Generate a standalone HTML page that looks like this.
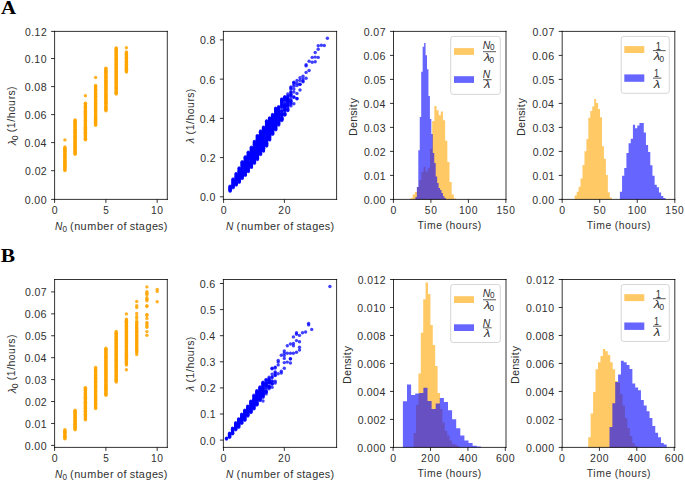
<!DOCTYPE html>
<html><head><meta charset="utf-8"><style>
html,body{margin:0;padding:0;background:#fff;}
svg{display:block;}
text{font-family:"Liberation Sans",sans-serif;}
</style></head><body>
<svg width="685" height="482" viewBox="0 0 685 482">
<rect width="685" height="482" fill="#fff"/>

<text transform="translate(0.9 13.7) scale(1.0692 1)" font-size="19.5" style="font-family:'Liberation Serif',serif;font-weight:bold" fill="#000">A</text>
<text transform="translate(0.64 261.9) scale(1.1038 1)" font-size="19.5" style="font-family:'Liberation Serif',serif;font-weight:bold" fill="#000">B</text>
<g fill="#ffa500" fill-opacity="0.85"><circle cx="64.9" cy="146.9" r="1.7"/><circle cx="64.9" cy="148.0" r="1.7"/><circle cx="64.9" cy="148.7" r="1.7"/><circle cx="64.9" cy="149.2" r="1.7"/><circle cx="64.9" cy="150.0" r="1.7"/><circle cx="64.9" cy="151.2" r="1.7"/><circle cx="64.9" cy="151.5" r="1.7"/><circle cx="64.9" cy="152.8" r="1.7"/><circle cx="64.9" cy="153.6" r="1.7"/><circle cx="64.9" cy="154.2" r="1.7"/><circle cx="64.9" cy="154.9" r="1.7"/><circle cx="64.9" cy="155.7" r="1.7"/><circle cx="64.9" cy="156.5" r="1.7"/><circle cx="64.9" cy="157.4" r="1.7"/><circle cx="64.9" cy="158.3" r="1.7"/><circle cx="64.9" cy="159.1" r="1.7"/><circle cx="64.9" cy="160.2" r="1.7"/><circle cx="64.9" cy="160.9" r="1.7"/><circle cx="64.9" cy="161.6" r="1.7"/><circle cx="64.9" cy="162.7" r="1.7"/><circle cx="64.9" cy="163.0" r="1.7"/><circle cx="64.9" cy="163.8" r="1.7"/><circle cx="64.9" cy="164.9" r="1.7"/><circle cx="64.9" cy="165.3" r="1.7"/><circle cx="64.9" cy="166.2" r="1.7"/><circle cx="64.9" cy="167.3" r="1.7"/><circle cx="64.9" cy="168.0" r="1.7"/><circle cx="64.9" cy="169.1" r="1.7"/><circle cx="64.9" cy="169.8" r="1.7"/><circle cx="64.9" cy="170.5" r="1.7"/><circle cx="64.9" cy="139.9" r="1.7"/><circle cx="75.1" cy="120.0" r="1.7"/><circle cx="75.1" cy="120.7" r="1.7"/><circle cx="75.1" cy="121.3" r="1.7"/><circle cx="75.1" cy="122.3" r="1.7"/><circle cx="75.1" cy="123.4" r="1.7"/><circle cx="75.1" cy="123.9" r="1.7"/><circle cx="75.1" cy="124.8" r="1.7"/><circle cx="75.1" cy="125.4" r="1.7"/><circle cx="75.1" cy="126.7" r="1.7"/><circle cx="75.1" cy="127.1" r="1.7"/><circle cx="75.1" cy="128.0" r="1.7"/><circle cx="75.1" cy="129.2" r="1.7"/><circle cx="75.1" cy="129.8" r="1.7"/><circle cx="75.1" cy="130.8" r="1.7"/><circle cx="75.1" cy="131.5" r="1.7"/><circle cx="75.1" cy="132.4" r="1.7"/><circle cx="75.1" cy="132.8" r="1.7"/><circle cx="75.1" cy="133.9" r="1.7"/><circle cx="75.1" cy="134.7" r="1.7"/><circle cx="75.1" cy="135.7" r="1.7"/><circle cx="75.1" cy="136.3" r="1.7"/><circle cx="75.1" cy="137.2" r="1.7"/><circle cx="75.1" cy="137.7" r="1.7"/><circle cx="75.1" cy="138.7" r="1.7"/><circle cx="75.1" cy="139.5" r="1.7"/><circle cx="75.1" cy="140.2" r="1.7"/><circle cx="75.1" cy="141.4" r="1.7"/><circle cx="75.1" cy="142.0" r="1.7"/><circle cx="75.1" cy="143.2" r="1.7"/><circle cx="75.1" cy="143.7" r="1.7"/><circle cx="75.1" cy="144.6" r="1.7"/><circle cx="75.1" cy="145.4" r="1.7"/><circle cx="75.1" cy="146.2" r="1.7"/><circle cx="75.1" cy="146.7" r="1.7"/><circle cx="75.1" cy="147.7" r="1.7"/><circle cx="75.1" cy="148.4" r="1.7"/><circle cx="75.1" cy="149.3" r="1.7"/><circle cx="75.1" cy="150.0" r="1.7"/><circle cx="75.1" cy="151.3" r="1.7"/><circle cx="75.1" cy="151.7" r="1.7"/><circle cx="75.1" cy="152.8" r="1.7"/><circle cx="75.1" cy="153.4" r="1.7"/><circle cx="75.1" cy="154.3" r="1.7"/><circle cx="85.4" cy="103.2" r="1.7"/><circle cx="85.4" cy="103.8" r="1.7"/><circle cx="85.4" cy="105.1" r="1.7"/><circle cx="85.4" cy="106.0" r="1.7"/><circle cx="85.4" cy="106.8" r="1.7"/><circle cx="85.4" cy="107.4" r="1.7"/><circle cx="85.4" cy="108.0" r="1.7"/><circle cx="85.4" cy="108.8" r="1.7"/><circle cx="85.4" cy="110.1" r="1.7"/><circle cx="85.4" cy="110.7" r="1.7"/><circle cx="85.4" cy="111.3" r="1.7"/><circle cx="85.4" cy="112.6" r="1.7"/><circle cx="85.4" cy="113.3" r="1.7"/><circle cx="85.4" cy="114.1" r="1.7"/><circle cx="85.4" cy="114.8" r="1.7"/><circle cx="85.4" cy="115.6" r="1.7"/><circle cx="85.4" cy="116.4" r="1.7"/><circle cx="85.4" cy="117.1" r="1.7"/><circle cx="85.4" cy="118.4" r="1.7"/><circle cx="85.4" cy="119.0" r="1.7"/><circle cx="85.4" cy="119.9" r="1.7"/><circle cx="85.4" cy="120.6" r="1.7"/><circle cx="85.4" cy="121.7" r="1.7"/><circle cx="85.4" cy="122.0" r="1.7"/><circle cx="85.4" cy="123.1" r="1.7"/><circle cx="85.4" cy="123.7" r="1.7"/><circle cx="85.4" cy="124.6" r="1.7"/><circle cx="85.4" cy="125.9" r="1.7"/><circle cx="85.4" cy="126.6" r="1.7"/><circle cx="85.4" cy="127.3" r="1.7"/><circle cx="85.4" cy="128.2" r="1.7"/><circle cx="85.4" cy="129.2" r="1.7"/><circle cx="85.4" cy="129.7" r="1.7"/><circle cx="85.4" cy="130.7" r="1.7"/><circle cx="85.4" cy="131.6" r="1.7"/><circle cx="85.4" cy="132.2" r="1.7"/><circle cx="85.4" cy="133.2" r="1.7"/><circle cx="85.4" cy="134.1" r="1.7"/><circle cx="85.4" cy="135.1" r="1.7"/><circle cx="85.4" cy="135.4" r="1.7"/><circle cx="85.4" cy="136.7" r="1.7"/><circle cx="85.4" cy="137.0" r="1.7"/><circle cx="85.4" cy="138.3" r="1.7"/><circle cx="85.4" cy="139.2" r="1.7"/><circle cx="85.4" cy="139.8" r="1.7"/><circle cx="85.4" cy="95.7" r="1.7"/><circle cx="95.6" cy="85.5" r="1.7"/><circle cx="95.6" cy="86.5" r="1.7"/><circle cx="95.6" cy="86.9" r="1.7"/><circle cx="95.6" cy="88.1" r="1.7"/><circle cx="95.6" cy="89.0" r="1.7"/><circle cx="95.6" cy="89.7" r="1.7"/><circle cx="95.6" cy="90.6" r="1.7"/><circle cx="95.6" cy="91.1" r="1.7"/><circle cx="95.6" cy="92.0" r="1.7"/><circle cx="95.6" cy="92.9" r="1.7"/><circle cx="95.6" cy="93.6" r="1.7"/><circle cx="95.6" cy="94.5" r="1.7"/><circle cx="95.6" cy="95.7" r="1.7"/><circle cx="95.6" cy="96.3" r="1.7"/><circle cx="95.6" cy="97.0" r="1.7"/><circle cx="95.6" cy="97.8" r="1.7"/><circle cx="95.6" cy="99.0" r="1.7"/><circle cx="95.6" cy="99.6" r="1.7"/><circle cx="95.6" cy="100.7" r="1.7"/><circle cx="95.6" cy="101.3" r="1.7"/><circle cx="95.6" cy="102.1" r="1.7"/><circle cx="95.6" cy="103.2" r="1.7"/><circle cx="95.6" cy="103.9" r="1.7"/><circle cx="95.6" cy="104.6" r="1.7"/><circle cx="95.6" cy="105.4" r="1.7"/><circle cx="95.6" cy="106.5" r="1.7"/><circle cx="95.6" cy="107.0" r="1.7"/><circle cx="95.6" cy="108.1" r="1.7"/><circle cx="95.6" cy="108.5" r="1.7"/><circle cx="95.6" cy="109.5" r="1.7"/><circle cx="95.6" cy="110.4" r="1.7"/><circle cx="95.6" cy="111.5" r="1.7"/><circle cx="95.6" cy="111.9" r="1.7"/><circle cx="95.6" cy="113.0" r="1.7"/><circle cx="95.6" cy="113.8" r="1.7"/><circle cx="95.6" cy="114.7" r="1.7"/><circle cx="95.6" cy="115.4" r="1.7"/><circle cx="95.6" cy="116.5" r="1.7"/><circle cx="95.6" cy="116.9" r="1.7"/><circle cx="95.6" cy="117.8" r="1.7"/><circle cx="95.6" cy="118.5" r="1.7"/><circle cx="95.6" cy="119.2" r="1.7"/><circle cx="95.6" cy="120.2" r="1.7"/><circle cx="95.6" cy="121.4" r="1.7"/><circle cx="95.6" cy="122.2" r="1.7"/><circle cx="95.6" cy="122.6" r="1.7"/><circle cx="95.6" cy="123.7" r="1.7"/><circle cx="95.6" cy="124.5" r="1.7"/><circle cx="95.6" cy="125.3" r="1.7"/><circle cx="95.6" cy="77.5" r="1.7"/><circle cx="105.9" cy="68.1" r="1.7"/><circle cx="105.9" cy="68.8" r="1.7"/><circle cx="105.9" cy="70.0" r="1.7"/><circle cx="105.9" cy="70.5" r="1.7"/><circle cx="105.9" cy="71.5" r="1.7"/><circle cx="105.9" cy="72.3" r="1.7"/><circle cx="105.9" cy="72.8" r="1.7"/><circle cx="105.9" cy="73.6" r="1.7"/><circle cx="105.9" cy="74.6" r="1.7"/><circle cx="105.9" cy="75.6" r="1.7"/><circle cx="105.9" cy="76.5" r="1.7"/><circle cx="105.9" cy="77.2" r="1.7"/><circle cx="105.9" cy="77.7" r="1.7"/><circle cx="105.9" cy="79.0" r="1.7"/><circle cx="105.9" cy="79.8" r="1.7"/><circle cx="105.9" cy="80.6" r="1.7"/><circle cx="105.9" cy="81.2" r="1.7"/><circle cx="105.9" cy="82.3" r="1.7"/><circle cx="105.9" cy="82.6" r="1.7"/><circle cx="105.9" cy="83.4" r="1.7"/><circle cx="105.9" cy="84.2" r="1.7"/><circle cx="105.9" cy="85.2" r="1.7"/><circle cx="105.9" cy="86.0" r="1.7"/><circle cx="105.9" cy="86.8" r="1.7"/><circle cx="105.9" cy="87.8" r="1.7"/><circle cx="105.9" cy="88.3" r="1.7"/><circle cx="105.9" cy="89.5" r="1.7"/><circle cx="105.9" cy="90.0" r="1.7"/><circle cx="105.9" cy="91.1" r="1.7"/><circle cx="105.9" cy="91.6" r="1.7"/><circle cx="105.9" cy="92.6" r="1.7"/><circle cx="105.9" cy="93.8" r="1.7"/><circle cx="105.9" cy="94.3" r="1.7"/><circle cx="105.9" cy="95.3" r="1.7"/><circle cx="105.9" cy="96.0" r="1.7"/><circle cx="105.9" cy="96.8" r="1.7"/><circle cx="105.9" cy="97.4" r="1.7"/><circle cx="105.9" cy="98.5" r="1.7"/><circle cx="105.9" cy="99.0" r="1.7"/><circle cx="105.9" cy="100.2" r="1.7"/><circle cx="105.9" cy="101.1" r="1.7"/><circle cx="105.9" cy="101.9" r="1.7"/><circle cx="105.9" cy="102.2" r="1.7"/><circle cx="105.9" cy="103.2" r="1.7"/><circle cx="105.9" cy="104.0" r="1.7"/><circle cx="105.9" cy="104.7" r="1.7"/><circle cx="105.9" cy="105.9" r="1.7"/><circle cx="105.9" cy="106.8" r="1.7"/><circle cx="105.9" cy="107.3" r="1.7"/><circle cx="105.9" cy="108.5" r="1.7"/><circle cx="105.9" cy="109.2" r="1.7"/><circle cx="105.9" cy="109.7" r="1.7"/><circle cx="105.9" cy="110.7" r="1.7"/><circle cx="116.2" cy="47.9" r="1.7"/><circle cx="116.2" cy="48.5" r="1.7"/><circle cx="116.2" cy="49.6" r="1.7"/><circle cx="116.2" cy="50.5" r="1.7"/><circle cx="116.2" cy="51.3" r="1.7"/><circle cx="116.2" cy="51.8" r="1.7"/><circle cx="116.2" cy="52.9" r="1.7"/><circle cx="116.2" cy="53.7" r="1.7"/><circle cx="116.2" cy="54.7" r="1.7"/><circle cx="116.2" cy="55.5" r="1.7"/><circle cx="116.2" cy="56.0" r="1.7"/><circle cx="116.2" cy="57.1" r="1.7"/><circle cx="116.2" cy="58.0" r="1.7"/><circle cx="116.2" cy="58.8" r="1.7"/><circle cx="116.2" cy="59.2" r="1.7"/><circle cx="116.2" cy="60.0" r="1.7"/><circle cx="116.2" cy="61.2" r="1.7"/><circle cx="116.2" cy="61.7" r="1.7"/><circle cx="116.2" cy="62.8" r="1.7"/><circle cx="116.2" cy="63.8" r="1.7"/><circle cx="116.2" cy="64.3" r="1.7"/><circle cx="116.2" cy="65.0" r="1.7"/><circle cx="116.2" cy="66.0" r="1.7"/><circle cx="116.2" cy="66.9" r="1.7"/><circle cx="116.2" cy="67.4" r="1.7"/><circle cx="116.2" cy="68.4" r="1.7"/><circle cx="116.2" cy="69.1" r="1.7"/><circle cx="116.2" cy="70.2" r="1.7"/><circle cx="116.2" cy="71.1" r="1.7"/><circle cx="116.2" cy="71.7" r="1.7"/><circle cx="116.2" cy="72.5" r="1.7"/><circle cx="116.2" cy="73.4" r="1.7"/><circle cx="116.2" cy="74.1" r="1.7"/><circle cx="116.2" cy="74.9" r="1.7"/><circle cx="116.2" cy="75.8" r="1.7"/><circle cx="116.2" cy="76.7" r="1.7"/><circle cx="116.2" cy="77.3" r="1.7"/><circle cx="116.2" cy="78.5" r="1.7"/><circle cx="116.2" cy="79.2" r="1.7"/><circle cx="116.2" cy="79.9" r="1.7"/><circle cx="116.2" cy="80.6" r="1.7"/><circle cx="116.2" cy="81.8" r="1.7"/><circle cx="116.2" cy="82.3" r="1.7"/><circle cx="116.2" cy="83.1" r="1.7"/><circle cx="116.2" cy="83.9" r="1.7"/><circle cx="116.2" cy="84.7" r="1.7"/><circle cx="116.2" cy="86.0" r="1.7"/><circle cx="116.2" cy="86.5" r="1.7"/><circle cx="116.2" cy="87.3" r="1.7"/><circle cx="116.2" cy="88.4" r="1.7"/><circle cx="116.2" cy="89.1" r="1.7"/><circle cx="116.2" cy="89.7" r="1.7"/><circle cx="116.2" cy="90.7" r="1.7"/><circle cx="116.2" cy="91.8" r="1.7"/><circle cx="116.2" cy="92.3" r="1.7"/><circle cx="116.2" cy="93.3" r="1.7"/><circle cx="116.2" cy="94.0" r="1.7"/><circle cx="126.4" cy="52.0" r="1.7"/><circle cx="126.4" cy="53.0" r="1.7"/><circle cx="126.4" cy="53.8" r="1.7"/><circle cx="126.4" cy="54.5" r="1.7"/><circle cx="126.4" cy="55.1" r="1.7"/><circle cx="126.4" cy="55.8" r="1.7"/><circle cx="126.4" cy="56.8" r="1.7"/><circle cx="126.4" cy="57.8" r="1.7"/><circle cx="126.4" cy="58.2" r="1.7"/><circle cx="126.4" cy="59.1" r="1.7"/><circle cx="126.4" cy="60.1" r="1.7"/><circle cx="126.4" cy="61.0" r="1.7"/><circle cx="126.4" cy="61.9" r="1.7"/><circle cx="126.4" cy="62.2" r="1.7"/><circle cx="126.4" cy="63.1" r="1.7"/><circle cx="126.4" cy="64.2" r="1.7"/><circle cx="126.4" cy="65.0" r="1.7"/><circle cx="126.4" cy="65.8" r="1.7"/><circle cx="126.4" cy="66.8" r="1.7"/><circle cx="126.4" cy="67.5" r="1.7"/><circle cx="126.4" cy="68.3" r="1.7"/><circle cx="126.4" cy="69.1" r="1.7"/><circle cx="126.4" cy="69.6" r="1.7"/><circle cx="126.4" cy="70.6" r="1.7"/><circle cx="126.4" cy="71.1" r="1.7"/><circle cx="126.4" cy="72.1" r="1.7"/><circle cx="126.4" cy="47.8" r="1.7"/></g>
<path d="M54.6 31.4H167.3M167.3 31.4V199.4M167.3 199.4H54.6M54.6 199.4V31.4" fill="none" stroke="#000" stroke-width="0.8" stroke-linecap="square"/>
<text transform="translate(51.67 214.3) scale(1.0039 1)" x="0" font-size="10.5" fill="#303030">0</text>
<text transform="translate(103.14 214.3) scale(0.9475 1)" x="0" font-size="10.5" fill="#303030">5</text>
<text transform="translate(150.88 214.3) scale(0.9814 1)" x="0 6.53" font-size="10.5" fill="#303030">10</text>
<path d="M54.6 199.4v3.5M105.9 199.4v3.5M157.2 199.4v3.5" stroke="#000" stroke-width="0.8"/>
<text transform="translate(24.73 203.8) scale(1.0106 1)" x="0 6.18 9.44 15.74" font-size="10.5" fill="#303030">0.00</text>
<text transform="translate(25.09 175.1) scale(1.0015 1)" x="0 6.22 9.53 15.75" font-size="10.5" fill="#303030">0.02</text>
<text transform="translate(24.62 147) scale(1.0106 1)" x="0 6.18 9.44 15.74" font-size="10.5" fill="#303030">0.04</text>
<text transform="translate(24.67 119) scale(1.0194 1)" x="0 6.14 9.36 15.6" font-size="10.5" fill="#303030">0.06</text>
<text transform="translate(24.74 91) scale(1.0133 1)" x="0 6.17 9.42 15.69" font-size="10.5" fill="#303030">0.08</text>
<text transform="translate(24.76 62.9) scale(0.9993 1)" x="0 6.23 9.49 15.91" font-size="10.5" fill="#303030">0.10</text>
<text transform="translate(25.12 35.8) scale(0.9903 1)" x="0 6.28 9.58 15.93" font-size="10.5" fill="#303030">0.12</text>
<path d="M54.6 199.4h-3.5M54.6 170.7h-3.5M54.6 142.6h-3.5M54.6 114.6h-3.5M54.6 86.6h-3.5M54.6 58.5h-3.5M54.6 31.4h-3.5" stroke="#000" stroke-width="0.8"/>
<g fill="#ffa500" fill-opacity="0.85"><circle cx="64.9" cy="429.8" r="1.7"/><circle cx="64.9" cy="430.8" r="1.7"/><circle cx="64.9" cy="431.4" r="1.7"/><circle cx="64.9" cy="432.2" r="1.7"/><circle cx="64.9" cy="433.0" r="1.7"/><circle cx="64.9" cy="433.6" r="1.7"/><circle cx="64.9" cy="434.9" r="1.7"/><circle cx="64.9" cy="435.6" r="1.7"/><circle cx="64.9" cy="436.3" r="1.7"/><circle cx="64.9" cy="437.2" r="1.7"/><circle cx="64.9" cy="438.1" r="1.7"/><circle cx="64.9" cy="438.8" r="1.7"/><circle cx="75.1" cy="410.2" r="1.7"/><circle cx="75.1" cy="411.3" r="1.7"/><circle cx="75.1" cy="411.8" r="1.7"/><circle cx="75.1" cy="412.4" r="1.7"/><circle cx="75.1" cy="413.6" r="1.7"/><circle cx="75.1" cy="414.6" r="1.7"/><circle cx="75.1" cy="414.9" r="1.7"/><circle cx="75.1" cy="416.0" r="1.7"/><circle cx="75.1" cy="416.9" r="1.7"/><circle cx="75.1" cy="417.8" r="1.7"/><circle cx="75.1" cy="418.1" r="1.7"/><circle cx="75.1" cy="418.9" r="1.7"/><circle cx="75.1" cy="420.3" r="1.7"/><circle cx="75.1" cy="420.6" r="1.7"/><circle cx="75.1" cy="421.4" r="1.7"/><circle cx="75.1" cy="422.5" r="1.7"/><circle cx="75.1" cy="423.2" r="1.7"/><circle cx="75.1" cy="424.2" r="1.7"/><circle cx="75.1" cy="424.7" r="1.7"/><circle cx="75.1" cy="426.0" r="1.7"/><circle cx="75.1" cy="426.4" r="1.7"/><circle cx="75.1" cy="427.5" r="1.7"/><circle cx="75.1" cy="427.9" r="1.7"/><circle cx="75.1" cy="429.0" r="1.7"/><circle cx="75.1" cy="429.8" r="1.7"/><circle cx="85.4" cy="387.6" r="1.7"/><circle cx="85.4" cy="388.3" r="1.7"/><circle cx="85.4" cy="389.4" r="1.7"/><circle cx="85.4" cy="390.0" r="1.7"/><circle cx="85.4" cy="390.6" r="1.7"/><circle cx="85.4" cy="392.0" r="1.7"/><circle cx="85.4" cy="392.8" r="1.7"/><circle cx="85.4" cy="393.6" r="1.7"/><circle cx="85.4" cy="394.0" r="1.7"/><circle cx="85.4" cy="394.9" r="1.7"/><circle cx="85.4" cy="395.7" r="1.7"/><circle cx="85.4" cy="396.4" r="1.7"/><circle cx="85.4" cy="397.2" r="1.7"/><circle cx="85.4" cy="398.3" r="1.7"/><circle cx="85.4" cy="398.9" r="1.7"/><circle cx="85.4" cy="399.8" r="1.7"/><circle cx="85.4" cy="401.0" r="1.7"/><circle cx="85.4" cy="401.6" r="1.7"/><circle cx="85.4" cy="402.2" r="1.7"/><circle cx="85.4" cy="403.3" r="1.7"/><circle cx="85.4" cy="403.9" r="1.7"/><circle cx="85.4" cy="404.9" r="1.7"/><circle cx="85.4" cy="405.6" r="1.7"/><circle cx="85.4" cy="406.5" r="1.7"/><circle cx="85.4" cy="407.4" r="1.7"/><circle cx="85.4" cy="408.2" r="1.7"/><circle cx="85.4" cy="408.9" r="1.7"/><circle cx="85.4" cy="410.0" r="1.7"/><circle cx="85.4" cy="410.9" r="1.7"/><circle cx="85.4" cy="411.3" r="1.7"/><circle cx="85.4" cy="412.1" r="1.7"/><circle cx="85.4" cy="412.9" r="1.7"/><circle cx="85.4" cy="414.2" r="1.7"/><circle cx="85.4" cy="415.0" r="1.7"/><circle cx="85.4" cy="415.4" r="1.7"/><circle cx="85.4" cy="416.7" r="1.7"/><circle cx="85.4" cy="417.1" r="1.7"/><circle cx="85.4" cy="418.1" r="1.7"/><circle cx="85.4" cy="418.9" r="1.7"/><circle cx="85.4" cy="419.7" r="1.7"/><circle cx="95.6" cy="369.0" r="1.7"/><circle cx="95.6" cy="369.7" r="1.7"/><circle cx="95.6" cy="370.7" r="1.7"/><circle cx="95.6" cy="371.2" r="1.7"/><circle cx="95.6" cy="372.1" r="1.7"/><circle cx="95.6" cy="373.1" r="1.7"/><circle cx="95.6" cy="374.2" r="1.7"/><circle cx="95.6" cy="374.9" r="1.7"/><circle cx="95.6" cy="375.8" r="1.7"/><circle cx="95.6" cy="376.6" r="1.7"/><circle cx="95.6" cy="377.4" r="1.7"/><circle cx="95.6" cy="378.3" r="1.7"/><circle cx="95.6" cy="379.0" r="1.7"/><circle cx="95.6" cy="379.9" r="1.7"/><circle cx="95.6" cy="380.4" r="1.7"/><circle cx="95.6" cy="381.2" r="1.7"/><circle cx="95.6" cy="382.4" r="1.7"/><circle cx="95.6" cy="382.8" r="1.7"/><circle cx="95.6" cy="384.1" r="1.7"/><circle cx="95.6" cy="384.7" r="1.7"/><circle cx="95.6" cy="385.4" r="1.7"/><circle cx="95.6" cy="386.6" r="1.7"/><circle cx="95.6" cy="386.9" r="1.7"/><circle cx="95.6" cy="388.0" r="1.7"/><circle cx="95.6" cy="388.6" r="1.7"/><circle cx="95.6" cy="389.9" r="1.7"/><circle cx="95.6" cy="390.5" r="1.7"/><circle cx="95.6" cy="391.5" r="1.7"/><circle cx="95.6" cy="392.0" r="1.7"/><circle cx="95.6" cy="393.1" r="1.7"/><circle cx="95.6" cy="393.9" r="1.7"/><circle cx="95.6" cy="394.7" r="1.7"/><circle cx="95.6" cy="395.7" r="1.7"/><circle cx="95.6" cy="396.2" r="1.7"/><circle cx="95.6" cy="397.0" r="1.7"/><circle cx="95.6" cy="398.0" r="1.7"/><circle cx="95.6" cy="398.9" r="1.7"/><circle cx="95.6" cy="399.4" r="1.7"/><circle cx="95.6" cy="400.5" r="1.7"/><circle cx="95.6" cy="401.0" r="1.7"/><circle cx="95.6" cy="402.0" r="1.7"/><circle cx="95.6" cy="403.0" r="1.7"/><circle cx="95.6" cy="403.4" r="1.7"/><circle cx="95.6" cy="404.6" r="1.7"/><circle cx="95.6" cy="405.0" r="1.7"/><circle cx="95.6" cy="406.4" r="1.7"/><circle cx="95.6" cy="406.9" r="1.7"/><circle cx="95.6" cy="407.7" r="1.7"/><circle cx="95.6" cy="408.6" r="1.7"/><circle cx="95.6" cy="367.4" r="1.7"/><circle cx="105.9" cy="348.3" r="1.7"/><circle cx="105.9" cy="349.3" r="1.7"/><circle cx="105.9" cy="349.7" r="1.7"/><circle cx="105.9" cy="350.8" r="1.7"/><circle cx="105.9" cy="351.6" r="1.7"/><circle cx="105.9" cy="352.7" r="1.7"/><circle cx="105.9" cy="353.0" r="1.7"/><circle cx="105.9" cy="354.0" r="1.7"/><circle cx="105.9" cy="355.0" r="1.7"/><circle cx="105.9" cy="355.8" r="1.7"/><circle cx="105.9" cy="356.3" r="1.7"/><circle cx="105.9" cy="357.4" r="1.7"/><circle cx="105.9" cy="358.0" r="1.7"/><circle cx="105.9" cy="358.8" r="1.7"/><circle cx="105.9" cy="360.1" r="1.7"/><circle cx="105.9" cy="360.5" r="1.7"/><circle cx="105.9" cy="361.5" r="1.7"/><circle cx="105.9" cy="362.5" r="1.7"/><circle cx="105.9" cy="363.3" r="1.7"/><circle cx="105.9" cy="364.0" r="1.7"/><circle cx="105.9" cy="365.0" r="1.7"/><circle cx="105.9" cy="365.6" r="1.7"/><circle cx="105.9" cy="366.5" r="1.7"/><circle cx="105.9" cy="367.5" r="1.7"/><circle cx="105.9" cy="368.2" r="1.7"/><circle cx="105.9" cy="369.0" r="1.7"/><circle cx="105.9" cy="369.7" r="1.7"/><circle cx="105.9" cy="370.6" r="1.7"/><circle cx="105.9" cy="371.3" r="1.7"/><circle cx="105.9" cy="372.4" r="1.7"/><circle cx="105.9" cy="373.0" r="1.7"/><circle cx="105.9" cy="373.8" r="1.7"/><circle cx="105.9" cy="374.8" r="1.7"/><circle cx="105.9" cy="375.5" r="1.7"/><circle cx="105.9" cy="376.2" r="1.7"/><circle cx="105.9" cy="377.4" r="1.7"/><circle cx="105.9" cy="377.9" r="1.7"/><circle cx="105.9" cy="379.0" r="1.7"/><circle cx="105.9" cy="379.8" r="1.7"/><circle cx="105.9" cy="380.4" r="1.7"/><circle cx="105.9" cy="381.4" r="1.7"/><circle cx="105.9" cy="381.8" r="1.7"/><circle cx="105.9" cy="382.9" r="1.7"/><circle cx="105.9" cy="384.0" r="1.7"/><circle cx="105.9" cy="384.6" r="1.7"/><circle cx="105.9" cy="385.4" r="1.7"/><circle cx="105.9" cy="386.3" r="1.7"/><circle cx="105.9" cy="387.2" r="1.7"/><circle cx="105.9" cy="387.9" r="1.7"/><circle cx="105.9" cy="388.7" r="1.7"/><circle cx="105.9" cy="389.3" r="1.7"/><circle cx="105.9" cy="390.2" r="1.7"/><circle cx="105.9" cy="391.1" r="1.7"/><circle cx="105.9" cy="392.0" r="1.7"/><circle cx="105.9" cy="393.1" r="1.7"/><circle cx="105.9" cy="393.6" r="1.7"/><circle cx="105.9" cy="394.4" r="1.7"/><circle cx="105.9" cy="395.3" r="1.7"/><circle cx="116.2" cy="331.5" r="1.7"/><circle cx="116.2" cy="332.6" r="1.7"/><circle cx="116.2" cy="333.4" r="1.7"/><circle cx="116.2" cy="333.9" r="1.7"/><circle cx="116.2" cy="334.7" r="1.7"/><circle cx="116.2" cy="335.9" r="1.7"/><circle cx="116.2" cy="336.5" r="1.7"/><circle cx="116.2" cy="337.4" r="1.7"/><circle cx="116.2" cy="337.9" r="1.7"/><circle cx="116.2" cy="339.2" r="1.7"/><circle cx="116.2" cy="339.7" r="1.7"/><circle cx="116.2" cy="340.6" r="1.7"/><circle cx="116.2" cy="341.3" r="1.7"/><circle cx="116.2" cy="342.2" r="1.7"/><circle cx="116.2" cy="343.3" r="1.7"/><circle cx="116.2" cy="344.1" r="1.7"/><circle cx="116.2" cy="344.7" r="1.7"/><circle cx="116.2" cy="345.7" r="1.7"/><circle cx="116.2" cy="346.4" r="1.7"/><circle cx="116.2" cy="347.2" r="1.7"/><circle cx="116.2" cy="348.1" r="1.7"/><circle cx="116.2" cy="348.7" r="1.7"/><circle cx="116.2" cy="349.6" r="1.7"/><circle cx="116.2" cy="350.7" r="1.7"/><circle cx="116.2" cy="351.5" r="1.7"/><circle cx="116.2" cy="351.9" r="1.7"/><circle cx="116.2" cy="353.2" r="1.7"/><circle cx="116.2" cy="354.0" r="1.7"/><circle cx="116.2" cy="354.6" r="1.7"/><circle cx="116.2" cy="355.2" r="1.7"/><circle cx="116.2" cy="356.4" r="1.7"/><circle cx="116.2" cy="357.0" r="1.7"/><circle cx="116.2" cy="358.1" r="1.7"/><circle cx="116.2" cy="358.7" r="1.7"/><circle cx="116.2" cy="359.7" r="1.7"/><circle cx="116.2" cy="360.3" r="1.7"/><circle cx="116.2" cy="361.3" r="1.7"/><circle cx="116.2" cy="362.1" r="1.7"/><circle cx="116.2" cy="363.0" r="1.7"/><circle cx="116.2" cy="363.6" r="1.7"/><circle cx="116.2" cy="364.9" r="1.7"/><circle cx="116.2" cy="365.3" r="1.7"/><circle cx="116.2" cy="366.2" r="1.7"/><circle cx="116.2" cy="367.0" r="1.7"/><circle cx="116.2" cy="367.7" r="1.7"/><circle cx="116.2" cy="368.7" r="1.7"/><circle cx="116.2" cy="369.7" r="1.7"/><circle cx="116.2" cy="370.5" r="1.7"/><circle cx="116.2" cy="371.1" r="1.7"/><circle cx="116.2" cy="371.8" r="1.7"/><circle cx="116.2" cy="372.8" r="1.7"/><circle cx="116.2" cy="373.9" r="1.7"/><circle cx="116.2" cy="374.5" r="1.7"/><circle cx="116.2" cy="375.6" r="1.7"/><circle cx="116.2" cy="376.3" r="1.7"/><circle cx="116.2" cy="377.1" r="1.7"/><circle cx="116.2" cy="378.0" r="1.7"/><circle cx="116.2" cy="378.8" r="1.7"/><circle cx="116.2" cy="379.4" r="1.7"/><circle cx="116.2" cy="380.2" r="1.7"/><circle cx="116.2" cy="381.1" r="1.7"/><circle cx="116.2" cy="382.0" r="1.7"/><circle cx="126.4" cy="319.1" r="1.7"/><circle cx="126.4" cy="319.9" r="1.7"/><circle cx="126.4" cy="320.8" r="1.7"/><circle cx="126.4" cy="321.3" r="1.7"/><circle cx="126.4" cy="322.2" r="1.7"/><circle cx="126.4" cy="323.0" r="1.7"/><circle cx="126.4" cy="323.9" r="1.7"/><circle cx="126.4" cy="325.1" r="1.7"/><circle cx="126.4" cy="325.4" r="1.7"/><circle cx="126.4" cy="326.3" r="1.7"/><circle cx="126.4" cy="327.1" r="1.7"/><circle cx="126.4" cy="328.1" r="1.7"/><circle cx="126.4" cy="328.6" r="1.7"/><circle cx="126.4" cy="329.7" r="1.7"/><circle cx="126.4" cy="330.4" r="1.7"/><circle cx="126.4" cy="331.3" r="1.7"/><circle cx="126.4" cy="332.4" r="1.7"/><circle cx="126.4" cy="332.8" r="1.7"/><circle cx="126.4" cy="333.9" r="1.7"/><circle cx="126.4" cy="334.6" r="1.7"/><circle cx="126.4" cy="335.4" r="1.7"/><circle cx="126.4" cy="336.5" r="1.7"/><circle cx="126.4" cy="336.9" r="1.7"/><circle cx="126.4" cy="338.2" r="1.7"/><circle cx="126.4" cy="339.0" r="1.7"/><circle cx="126.4" cy="339.7" r="1.7"/><circle cx="126.4" cy="340.1" r="1.7"/><circle cx="126.4" cy="341.3" r="1.7"/><circle cx="126.4" cy="342.1" r="1.7"/><circle cx="126.4" cy="343.0" r="1.7"/><circle cx="126.4" cy="343.5" r="1.7"/><circle cx="126.4" cy="344.8" r="1.7"/><circle cx="126.4" cy="345.6" r="1.7"/><circle cx="126.4" cy="345.9" r="1.7"/><circle cx="126.4" cy="346.9" r="1.7"/><circle cx="126.4" cy="347.5" r="1.7"/><circle cx="126.4" cy="348.8" r="1.7"/><circle cx="126.4" cy="349.7" r="1.7"/><circle cx="126.4" cy="350.5" r="1.7"/><circle cx="126.4" cy="351.1" r="1.7"/><circle cx="126.4" cy="352.0" r="1.7"/><circle cx="126.4" cy="352.8" r="1.7"/><circle cx="126.4" cy="353.6" r="1.7"/><circle cx="126.4" cy="354.6" r="1.7"/><circle cx="126.4" cy="355.2" r="1.7"/><circle cx="126.4" cy="355.9" r="1.7"/><circle cx="126.4" cy="356.8" r="1.7"/><circle cx="126.4" cy="357.3" r="1.7"/><circle cx="126.4" cy="358.6" r="1.7"/><circle cx="126.4" cy="359.4" r="1.7"/><circle cx="126.4" cy="360.0" r="1.7"/><circle cx="126.4" cy="361.1" r="1.7"/><circle cx="126.4" cy="361.9" r="1.7"/><circle cx="126.4" cy="362.4" r="1.7"/><circle cx="126.4" cy="363.1" r="1.7"/><circle cx="126.4" cy="364.0" r="1.7"/><circle cx="126.4" cy="365.0" r="1.7"/><circle cx="126.4" cy="313.9" r="1.7"/><circle cx="126.4" cy="369.7" r="1.7"/><circle cx="136.7" cy="321.5" r="1.7"/><circle cx="136.7" cy="322.5" r="1.7"/><circle cx="136.7" cy="323.9" r="1.7"/><circle cx="136.7" cy="324.6" r="1.7"/><circle cx="136.7" cy="326.0" r="1.7"/><circle cx="136.7" cy="327.0" r="1.7"/><circle cx="136.7" cy="328.1" r="1.7"/><circle cx="136.7" cy="328.9" r="1.7"/><circle cx="136.7" cy="329.8" r="1.7"/><circle cx="136.7" cy="331.3" r="1.7"/><circle cx="136.7" cy="332.0" r="1.7"/><circle cx="136.7" cy="333.0" r="1.7"/><circle cx="136.7" cy="334.5" r="1.7"/><circle cx="136.7" cy="335.5" r="1.7"/><circle cx="136.7" cy="336.3" r="1.7"/><circle cx="136.7" cy="337.4" r="1.7"/><circle cx="136.7" cy="338.9" r="1.7"/><circle cx="136.7" cy="339.5" r="1.7"/><circle cx="136.7" cy="340.9" r="1.7"/><circle cx="136.7" cy="341.6" r="1.7"/><circle cx="136.7" cy="343.1" r="1.7"/><circle cx="136.7" cy="343.7" r="1.7"/><circle cx="136.7" cy="345.0" r="1.7"/><circle cx="136.7" cy="345.8" r="1.7"/><circle cx="136.7" cy="347.2" r="1.7"/><circle cx="136.7" cy="348.4" r="1.7"/><circle cx="136.7" cy="349.0" r="1.7"/><circle cx="136.7" cy="350.2" r="1.7"/><circle cx="136.7" cy="351.6" r="1.7"/><circle cx="136.7" cy="352.5" r="1.7"/><circle cx="136.7" cy="301.5" r="1.7"/><circle cx="136.7" cy="305.6" r="1.7"/><circle cx="136.7" cy="307.5" r="1.7"/><circle cx="136.7" cy="313.5" r="1.7"/><circle cx="136.7" cy="316.5" r="1.7"/><circle cx="136.7" cy="318.5" r="1.7"/><circle cx="136.7" cy="354.5" r="1.7"/><circle cx="146.9" cy="286.9" r="1.7"/><circle cx="146.9" cy="291.8" r="1.7"/><circle cx="146.9" cy="293.3" r="1.7"/><circle cx="146.9" cy="294.8" r="1.7"/><circle cx="146.9" cy="297.7" r="1.7"/><circle cx="146.9" cy="299.2" r="1.7"/><circle cx="146.9" cy="300.7" r="1.7"/><circle cx="146.9" cy="305.6" r="1.7"/><circle cx="146.9" cy="306.6" r="1.7"/><circle cx="146.9" cy="314.5" r="1.7"/><circle cx="146.9" cy="315.5" r="1.7"/><circle cx="146.9" cy="318.4" r="1.7"/><circle cx="146.9" cy="322.4" r="1.7"/><circle cx="146.9" cy="324.0" r="1.7"/><circle cx="146.9" cy="325.7" r="1.7"/><circle cx="146.9" cy="327.3" r="1.7"/><circle cx="146.9" cy="331.6" r="1.7"/><circle cx="146.9" cy="335.2" r="1.7"/><circle cx="157.2" cy="289.5" r="1.7"/><circle cx="157.2" cy="291.4" r="1.7"/><circle cx="157.2" cy="301.7" r="1.7"/></g>
<path d="M54.6 279.5H167.3M167.3 279.5V447.4M167.3 447.4H54.6M54.6 447.4V279.5" fill="none" stroke="#000" stroke-width="0.8" stroke-linecap="square"/>
<text transform="translate(51.67 462.3) scale(1.0039 1)" x="0" font-size="10.5" fill="#303030">0</text>
<text transform="translate(103.14 462.3) scale(0.9475 1)" x="0" font-size="10.5" fill="#303030">5</text>
<text transform="translate(150.88 462.3) scale(0.9814 1)" x="0 6.53" font-size="10.5" fill="#303030">10</text>
<path d="M54.6 447.4v3.5M105.9 447.4v3.5M157.2 447.4v3.5" stroke="#000" stroke-width="0.8"/>
<text transform="translate(24.73 449.8) scale(1.0106 1)" x="0 6.18 9.44 15.74" font-size="10.5" fill="#303030">0.00</text>
<text transform="translate(25.02 427.87) scale(0.9993 1)" x="0 6.23 9.55 15.86" font-size="10.5" fill="#303030">0.01</text>
<text transform="translate(25.09 405.94) scale(1.0015 1)" x="0 6.22 9.53 15.75" font-size="10.5" fill="#303030">0.02</text>
<text transform="translate(24.89 384.01) scale(1.0006 1)" x="0 6.23 9.53 15.91" font-size="10.5" fill="#303030">0.03</text>
<text transform="translate(24.62 362.09) scale(1.0106 1)" x="0 6.18 9.44 15.74" font-size="10.5" fill="#303030">0.04</text>
<text transform="translate(24.98 340.16) scale(0.9965 1)" x="0 6.25 9.57 15.92" font-size="10.5" fill="#303030">0.05</text>
<text transform="translate(24.67 318.23) scale(1.0194 1)" x="0 6.14 9.36 15.6" font-size="10.5" fill="#303030">0.06</text>
<text transform="translate(24.93 296.3) scale(1.0051 1)" x="0 6.2 9.49 15.8" font-size="10.5" fill="#303030">0.07</text>
<path d="M54.6 445.4h-3.5M54.6 423.47h-3.5M54.6 401.54h-3.5M54.6 379.61h-3.5M54.6 357.69h-3.5M54.6 335.76h-3.5M54.6 313.83h-3.5M54.6 291.9h-3.5" stroke="#000" stroke-width="0.8"/>
<g fill="#0000ff" fill-opacity="0.75"><circle cx="230.1" cy="186.1" r="1.7"/><circle cx="230.1" cy="186.7" r="1.7"/><circle cx="230.1" cy="187.1" r="1.7"/><circle cx="230.1" cy="187.8" r="1.7"/><circle cx="230.1" cy="188.0" r="1.7"/><circle cx="230.1" cy="188.8" r="1.7"/><circle cx="230.1" cy="189.2" r="1.7"/><circle cx="230.1" cy="189.7" r="1.7"/><circle cx="230.1" cy="190.0" r="1.7"/><circle cx="230.1" cy="190.7" r="1.7"/><circle cx="230.1" cy="191.1" r="1.7"/><circle cx="233.1" cy="179.1" r="1.7"/><circle cx="233.1" cy="179.3" r="1.7"/><circle cx="233.1" cy="180.4" r="1.7"/><circle cx="233.1" cy="180.8" r="1.7"/><circle cx="233.1" cy="181.1" r="1.7"/><circle cx="233.1" cy="181.9" r="1.7"/><circle cx="233.1" cy="182.2" r="1.7"/><circle cx="233.1" cy="182.9" r="1.7"/><circle cx="233.1" cy="183.6" r="1.7"/><circle cx="233.1" cy="183.9" r="1.7"/><circle cx="233.1" cy="184.4" r="1.7"/><circle cx="233.1" cy="184.9" r="1.7"/><circle cx="233.1" cy="185.3" r="1.7"/><circle cx="233.1" cy="186.0" r="1.7"/><circle cx="233.1" cy="186.6" r="1.7"/><circle cx="233.1" cy="187.0" r="1.7"/><circle cx="233.1" cy="187.8" r="1.7"/><circle cx="236.2" cy="173.6" r="1.7"/><circle cx="236.2" cy="173.9" r="1.7"/><circle cx="236.2" cy="174.8" r="1.7"/><circle cx="236.2" cy="175.5" r="1.7"/><circle cx="236.2" cy="176.3" r="1.7"/><circle cx="236.2" cy="176.9" r="1.7"/><circle cx="236.2" cy="177.1" r="1.7"/><circle cx="236.2" cy="177.7" r="1.7"/><circle cx="236.2" cy="178.7" r="1.7"/><circle cx="236.2" cy="179.0" r="1.7"/><circle cx="236.2" cy="179.8" r="1.7"/><circle cx="236.2" cy="180.7" r="1.7"/><circle cx="236.2" cy="181.4" r="1.7"/><circle cx="236.2" cy="182.0" r="1.7"/><circle cx="236.2" cy="182.9" r="1.7"/><circle cx="236.2" cy="183.3" r="1.7"/><circle cx="236.2" cy="184.1" r="1.7"/><circle cx="236.2" cy="184.2" r="1.7"/><circle cx="236.2" cy="185.0" r="1.7"/><circle cx="239.2" cy="167.9" r="1.7"/><circle cx="239.2" cy="168.5" r="1.7"/><circle cx="239.2" cy="169.0" r="1.7"/><circle cx="239.2" cy="169.9" r="1.7"/><circle cx="239.2" cy="170.5" r="1.7"/><circle cx="239.2" cy="171.3" r="1.7"/><circle cx="239.2" cy="171.7" r="1.7"/><circle cx="239.2" cy="172.2" r="1.7"/><circle cx="239.2" cy="173.1" r="1.7"/><circle cx="239.2" cy="173.9" r="1.7"/><circle cx="239.2" cy="174.2" r="1.7"/><circle cx="239.2" cy="174.9" r="1.7"/><circle cx="239.2" cy="175.2" r="1.7"/><circle cx="239.2" cy="176.0" r="1.7"/><circle cx="239.2" cy="176.6" r="1.7"/><circle cx="239.2" cy="177.1" r="1.7"/><circle cx="239.2" cy="177.8" r="1.7"/><circle cx="239.2" cy="178.2" r="1.7"/><circle cx="239.2" cy="178.6" r="1.7"/><circle cx="239.2" cy="179.4" r="1.7"/><circle cx="239.2" cy="179.9" r="1.7"/><circle cx="239.2" cy="180.3" r="1.7"/><circle cx="239.2" cy="181.1" r="1.7"/><circle cx="239.2" cy="181.8" r="1.7"/><circle cx="239.2" cy="182.2" r="1.7"/><circle cx="242.2" cy="161.7" r="1.7"/><circle cx="242.2" cy="162.5" r="1.7"/><circle cx="242.2" cy="162.8" r="1.7"/><circle cx="242.2" cy="163.3" r="1.7"/><circle cx="242.2" cy="164.0" r="1.7"/><circle cx="242.2" cy="164.6" r="1.7"/><circle cx="242.2" cy="165.3" r="1.7"/><circle cx="242.2" cy="165.8" r="1.7"/><circle cx="242.2" cy="166.1" r="1.7"/><circle cx="242.2" cy="167.1" r="1.7"/><circle cx="242.2" cy="167.8" r="1.7"/><circle cx="242.2" cy="168.5" r="1.7"/><circle cx="242.2" cy="169.0" r="1.7"/><circle cx="242.2" cy="170.0" r="1.7"/><circle cx="242.2" cy="170.6" r="1.7"/><circle cx="242.2" cy="171.4" r="1.7"/><circle cx="242.2" cy="171.9" r="1.7"/><circle cx="242.2" cy="172.7" r="1.7"/><circle cx="242.2" cy="173.5" r="1.7"/><circle cx="242.2" cy="174.2" r="1.7"/><circle cx="242.2" cy="175.0" r="1.7"/><circle cx="242.2" cy="175.6" r="1.7"/><circle cx="242.2" cy="176.3" r="1.7"/><circle cx="242.2" cy="176.7" r="1.7"/><circle cx="242.2" cy="177.1" r="1.7"/><circle cx="242.2" cy="177.8" r="1.7"/><circle cx="242.2" cy="178.5" r="1.7"/><circle cx="245.3" cy="156.9" r="1.7"/><circle cx="245.3" cy="157.3" r="1.7"/><circle cx="245.3" cy="158.3" r="1.7"/><circle cx="245.3" cy="158.5" r="1.7"/><circle cx="245.3" cy="159.4" r="1.7"/><circle cx="245.3" cy="160.6" r="1.7"/><circle cx="245.3" cy="160.7" r="1.7"/><circle cx="245.3" cy="161.5" r="1.7"/><circle cx="245.3" cy="162.2" r="1.7"/><circle cx="245.3" cy="162.6" r="1.7"/><circle cx="245.3" cy="163.0" r="1.7"/><circle cx="245.3" cy="163.6" r="1.7"/><circle cx="245.3" cy="164.2" r="1.7"/><circle cx="245.3" cy="164.6" r="1.7"/><circle cx="245.3" cy="165.3" r="1.7"/><circle cx="245.3" cy="165.8" r="1.7"/><circle cx="245.3" cy="166.6" r="1.7"/><circle cx="245.3" cy="167.1" r="1.7"/><circle cx="245.3" cy="167.8" r="1.7"/><circle cx="245.3" cy="168.2" r="1.7"/><circle cx="245.3" cy="168.6" r="1.7"/><circle cx="245.3" cy="169.4" r="1.7"/><circle cx="245.3" cy="170.2" r="1.7"/><circle cx="245.3" cy="170.5" r="1.7"/><circle cx="245.3" cy="171.1" r="1.7"/><circle cx="245.3" cy="171.9" r="1.7"/><circle cx="245.3" cy="172.3" r="1.7"/><circle cx="245.3" cy="173.1" r="1.7"/><circle cx="245.3" cy="173.7" r="1.7"/><circle cx="245.3" cy="173.9" r="1.7"/><circle cx="245.3" cy="174.7" r="1.7"/><circle cx="245.3" cy="175.2" r="1.7"/><circle cx="248.3" cy="152.2" r="1.7"/><circle cx="248.3" cy="152.8" r="1.7"/><circle cx="248.3" cy="153.4" r="1.7"/><circle cx="248.3" cy="154.2" r="1.7"/><circle cx="248.3" cy="155.2" r="1.7"/><circle cx="248.3" cy="155.6" r="1.7"/><circle cx="248.3" cy="156.0" r="1.7"/><circle cx="248.3" cy="157.1" r="1.7"/><circle cx="248.3" cy="157.5" r="1.7"/><circle cx="248.3" cy="157.7" r="1.7"/><circle cx="248.3" cy="158.7" r="1.7"/><circle cx="248.3" cy="159.4" r="1.7"/><circle cx="248.3" cy="160.1" r="1.7"/><circle cx="248.3" cy="161.0" r="1.7"/><circle cx="248.3" cy="162.2" r="1.7"/><circle cx="248.3" cy="162.6" r="1.7"/><circle cx="248.3" cy="162.8" r="1.7"/><circle cx="248.3" cy="163.7" r="1.7"/><circle cx="248.3" cy="164.2" r="1.7"/><circle cx="248.3" cy="164.8" r="1.7"/><circle cx="248.3" cy="165.5" r="1.7"/><circle cx="248.3" cy="166.0" r="1.7"/><circle cx="248.3" cy="166.8" r="1.7"/><circle cx="248.3" cy="167.8" r="1.7"/><circle cx="248.3" cy="168.1" r="1.7"/><circle cx="248.3" cy="168.9" r="1.7"/><circle cx="248.3" cy="169.6" r="1.7"/><circle cx="248.3" cy="170.2" r="1.7"/><circle cx="248.3" cy="171.0" r="1.7"/><circle cx="248.3" cy="171.6" r="1.7"/><circle cx="251.4" cy="147.2" r="1.7"/><circle cx="251.4" cy="147.7" r="1.7"/><circle cx="251.4" cy="148.6" r="1.7"/><circle cx="251.4" cy="148.9" r="1.7"/><circle cx="251.4" cy="149.5" r="1.7"/><circle cx="251.4" cy="150.3" r="1.7"/><circle cx="251.4" cy="150.7" r="1.7"/><circle cx="251.4" cy="151.2" r="1.7"/><circle cx="251.4" cy="151.8" r="1.7"/><circle cx="251.4" cy="152.4" r="1.7"/><circle cx="251.4" cy="152.8" r="1.7"/><circle cx="251.4" cy="153.3" r="1.7"/><circle cx="251.4" cy="154.3" r="1.7"/><circle cx="251.4" cy="154.8" r="1.7"/><circle cx="251.4" cy="155.4" r="1.7"/><circle cx="251.4" cy="156.0" r="1.7"/><circle cx="251.4" cy="156.3" r="1.7"/><circle cx="251.4" cy="156.9" r="1.7"/><circle cx="251.4" cy="157.5" r="1.7"/><circle cx="251.4" cy="158.0" r="1.7"/><circle cx="251.4" cy="158.9" r="1.7"/><circle cx="251.4" cy="159.2" r="1.7"/><circle cx="251.4" cy="159.8" r="1.7"/><circle cx="251.4" cy="160.6" r="1.7"/><circle cx="251.4" cy="160.9" r="1.7"/><circle cx="251.4" cy="161.4" r="1.7"/><circle cx="251.4" cy="162.3" r="1.7"/><circle cx="251.4" cy="162.9" r="1.7"/><circle cx="251.4" cy="163.2" r="1.7"/><circle cx="251.4" cy="164.0" r="1.7"/><circle cx="251.4" cy="164.2" r="1.7"/><circle cx="251.4" cy="165.0" r="1.7"/><circle cx="251.4" cy="165.7" r="1.7"/><circle cx="251.4" cy="166.1" r="1.7"/><circle cx="251.4" cy="166.7" r="1.7"/><circle cx="251.4" cy="167.4" r="1.7"/><circle cx="254.4" cy="141.5" r="1.7"/><circle cx="254.4" cy="141.9" r="1.7"/><circle cx="254.4" cy="142.8" r="1.7"/><circle cx="254.4" cy="143.0" r="1.7"/><circle cx="254.4" cy="144.1" r="1.7"/><circle cx="254.4" cy="144.2" r="1.7"/><circle cx="254.4" cy="144.8" r="1.7"/><circle cx="254.4" cy="145.3" r="1.7"/><circle cx="254.4" cy="146.4" r="1.7"/><circle cx="254.4" cy="147.3" r="1.7"/><circle cx="254.4" cy="148.1" r="1.7"/><circle cx="254.4" cy="148.7" r="1.7"/><circle cx="254.4" cy="149.6" r="1.7"/><circle cx="254.4" cy="150.2" r="1.7"/><circle cx="254.4" cy="150.8" r="1.7"/><circle cx="254.4" cy="151.2" r="1.7"/><circle cx="254.4" cy="151.7" r="1.7"/><circle cx="254.4" cy="152.1" r="1.7"/><circle cx="254.4" cy="152.7" r="1.7"/><circle cx="254.4" cy="153.6" r="1.7"/><circle cx="254.4" cy="153.9" r="1.7"/><circle cx="254.4" cy="154.5" r="1.7"/><circle cx="254.4" cy="155.2" r="1.7"/><circle cx="254.4" cy="155.6" r="1.7"/><circle cx="254.4" cy="156.1" r="1.7"/><circle cx="254.4" cy="157.3" r="1.7"/><circle cx="254.4" cy="157.5" r="1.7"/><circle cx="254.4" cy="158.0" r="1.7"/><circle cx="254.4" cy="158.8" r="1.7"/><circle cx="254.4" cy="159.0" r="1.7"/><circle cx="254.4" cy="159.7" r="1.7"/><circle cx="254.4" cy="160.7" r="1.7"/><circle cx="254.4" cy="161.3" r="1.7"/><circle cx="254.4" cy="161.7" r="1.7"/><circle cx="254.4" cy="161.9" r="1.7"/><circle cx="254.4" cy="162.6" r="1.7"/><circle cx="254.4" cy="163.3" r="1.7"/><circle cx="257.4" cy="135.6" r="1.7"/><circle cx="257.4" cy="135.9" r="1.7"/><circle cx="257.4" cy="136.6" r="1.7"/><circle cx="257.4" cy="137.5" r="1.7"/><circle cx="257.4" cy="137.7" r="1.7"/><circle cx="257.4" cy="138.3" r="1.7"/><circle cx="257.4" cy="139.4" r="1.7"/><circle cx="257.4" cy="139.6" r="1.7"/><circle cx="257.4" cy="140.2" r="1.7"/><circle cx="257.4" cy="140.6" r="1.7"/><circle cx="257.4" cy="141.6" r="1.7"/><circle cx="257.4" cy="142.2" r="1.7"/><circle cx="257.4" cy="142.7" r="1.7"/><circle cx="257.4" cy="143.3" r="1.7"/><circle cx="257.4" cy="143.6" r="1.7"/><circle cx="257.4" cy="144.2" r="1.7"/><circle cx="257.4" cy="145.0" r="1.7"/><circle cx="257.4" cy="145.8" r="1.7"/><circle cx="257.4" cy="146.3" r="1.7"/><circle cx="257.4" cy="146.8" r="1.7"/><circle cx="257.4" cy="147.3" r="1.7"/><circle cx="257.4" cy="147.6" r="1.7"/><circle cx="257.4" cy="148.7" r="1.7"/><circle cx="257.4" cy="149.4" r="1.7"/><circle cx="257.4" cy="150.3" r="1.7"/><circle cx="257.4" cy="151.0" r="1.7"/><circle cx="257.4" cy="151.6" r="1.7"/><circle cx="257.4" cy="151.9" r="1.7"/><circle cx="257.4" cy="152.4" r="1.7"/><circle cx="257.4" cy="152.8" r="1.7"/><circle cx="257.4" cy="153.9" r="1.7"/><circle cx="257.4" cy="154.6" r="1.7"/><circle cx="257.4" cy="154.7" r="1.7"/><circle cx="257.4" cy="155.7" r="1.7"/><circle cx="257.4" cy="156.0" r="1.7"/><circle cx="257.4" cy="156.5" r="1.7"/><circle cx="257.4" cy="157.2" r="1.7"/><circle cx="257.4" cy="157.5" r="1.7"/><circle cx="257.4" cy="158.3" r="1.7"/><circle cx="257.4" cy="158.8" r="1.7"/><circle cx="257.4" cy="159.5" r="1.7"/><circle cx="260.5" cy="130.9" r="1.7"/><circle cx="260.5" cy="131.7" r="1.7"/><circle cx="260.5" cy="132.3" r="1.7"/><circle cx="260.5" cy="132.6" r="1.7"/><circle cx="260.5" cy="133.1" r="1.7"/><circle cx="260.5" cy="134.1" r="1.7"/><circle cx="260.5" cy="134.4" r="1.7"/><circle cx="260.5" cy="134.7" r="1.7"/><circle cx="260.5" cy="135.3" r="1.7"/><circle cx="260.5" cy="136.4" r="1.7"/><circle cx="260.5" cy="136.7" r="1.7"/><circle cx="260.5" cy="137.0" r="1.7"/><circle cx="260.5" cy="137.8" r="1.7"/><circle cx="260.5" cy="138.4" r="1.7"/><circle cx="260.5" cy="138.9" r="1.7"/><circle cx="260.5" cy="139.8" r="1.7"/><circle cx="260.5" cy="140.4" r="1.7"/><circle cx="260.5" cy="141.1" r="1.7"/><circle cx="260.5" cy="141.8" r="1.7"/><circle cx="260.5" cy="142.6" r="1.7"/><circle cx="260.5" cy="143.1" r="1.7"/><circle cx="260.5" cy="143.7" r="1.7"/><circle cx="260.5" cy="144.2" r="1.7"/><circle cx="260.5" cy="144.5" r="1.7"/><circle cx="260.5" cy="145.5" r="1.7"/><circle cx="260.5" cy="146.6" r="1.7"/><circle cx="260.5" cy="146.8" r="1.7"/><circle cx="260.5" cy="147.6" r="1.7"/><circle cx="260.5" cy="148.4" r="1.7"/><circle cx="260.5" cy="148.8" r="1.7"/><circle cx="260.5" cy="149.0" r="1.7"/><circle cx="260.5" cy="149.8" r="1.7"/><circle cx="260.5" cy="150.5" r="1.7"/><circle cx="260.5" cy="150.8" r="1.7"/><circle cx="260.5" cy="151.4" r="1.7"/><circle cx="260.5" cy="151.9" r="1.7"/><circle cx="260.5" cy="152.8" r="1.7"/><circle cx="260.5" cy="153.2" r="1.7"/><circle cx="260.5" cy="153.9" r="1.7"/><circle cx="260.5" cy="154.5" r="1.7"/><circle cx="263.5" cy="127.1" r="1.7"/><circle cx="263.5" cy="127.5" r="1.7"/><circle cx="263.5" cy="128.5" r="1.7"/><circle cx="263.5" cy="129.1" r="1.7"/><circle cx="263.5" cy="129.4" r="1.7"/><circle cx="263.5" cy="130.0" r="1.7"/><circle cx="263.5" cy="130.8" r="1.7"/><circle cx="263.5" cy="131.1" r="1.7"/><circle cx="263.5" cy="132.0" r="1.7"/><circle cx="263.5" cy="132.2" r="1.7"/><circle cx="263.5" cy="133.1" r="1.7"/><circle cx="263.5" cy="133.4" r="1.7"/><circle cx="263.5" cy="134.2" r="1.7"/><circle cx="263.5" cy="135.0" r="1.7"/><circle cx="263.5" cy="136.1" r="1.7"/><circle cx="263.5" cy="136.5" r="1.7"/><circle cx="263.5" cy="137.0" r="1.7"/><circle cx="263.5" cy="137.5" r="1.7"/><circle cx="263.5" cy="138.0" r="1.7"/><circle cx="263.5" cy="138.7" r="1.7"/><circle cx="263.5" cy="139.5" r="1.7"/><circle cx="263.5" cy="139.7" r="1.7"/><circle cx="263.5" cy="140.7" r="1.7"/><circle cx="263.5" cy="141.4" r="1.7"/><circle cx="263.5" cy="142.0" r="1.7"/><circle cx="263.5" cy="142.5" r="1.7"/><circle cx="263.5" cy="143.1" r="1.7"/><circle cx="263.5" cy="143.3" r="1.7"/><circle cx="263.5" cy="144.3" r="1.7"/><circle cx="263.5" cy="144.5" r="1.7"/><circle cx="263.5" cy="145.5" r="1.7"/><circle cx="263.5" cy="146.0" r="1.7"/><circle cx="263.5" cy="146.5" r="1.7"/><circle cx="263.5" cy="147.0" r="1.7"/><circle cx="263.5" cy="147.4" r="1.7"/><circle cx="263.5" cy="148.2" r="1.7"/><circle cx="263.5" cy="148.6" r="1.7"/><circle cx="263.5" cy="149.1" r="1.7"/><circle cx="263.5" cy="149.7" r="1.7"/><circle cx="263.5" cy="150.7" r="1.7"/><circle cx="263.5" cy="151.1" r="1.7"/><circle cx="266.6" cy="120.9" r="1.7"/><circle cx="266.6" cy="121.2" r="1.7"/><circle cx="266.6" cy="122.0" r="1.7"/><circle cx="266.6" cy="122.5" r="1.7"/><circle cx="266.6" cy="123.1" r="1.7"/><circle cx="266.6" cy="123.9" r="1.7"/><circle cx="266.6" cy="124.4" r="1.7"/><circle cx="266.6" cy="125.0" r="1.7"/><circle cx="266.6" cy="125.4" r="1.7"/><circle cx="266.6" cy="126.3" r="1.7"/><circle cx="266.6" cy="126.6" r="1.7"/><circle cx="266.6" cy="127.3" r="1.7"/><circle cx="266.6" cy="127.9" r="1.7"/><circle cx="266.6" cy="128.8" r="1.7"/><circle cx="266.6" cy="129.0" r="1.7"/><circle cx="266.6" cy="129.8" r="1.7"/><circle cx="266.6" cy="130.2" r="1.7"/><circle cx="266.6" cy="131.1" r="1.7"/><circle cx="266.6" cy="131.4" r="1.7"/><circle cx="266.6" cy="132.0" r="1.7"/><circle cx="266.6" cy="132.8" r="1.7"/><circle cx="266.6" cy="133.3" r="1.7"/><circle cx="266.6" cy="133.5" r="1.7"/><circle cx="266.6" cy="134.1" r="1.7"/><circle cx="266.6" cy="135.2" r="1.7"/><circle cx="266.6" cy="136.0" r="1.7"/><circle cx="266.6" cy="137.0" r="1.7"/><circle cx="266.6" cy="137.7" r="1.7"/><circle cx="266.6" cy="138.3" r="1.7"/><circle cx="266.6" cy="138.8" r="1.7"/><circle cx="266.6" cy="139.6" r="1.7"/><circle cx="266.6" cy="140.3" r="1.7"/><circle cx="266.6" cy="140.7" r="1.7"/><circle cx="266.6" cy="141.1" r="1.7"/><circle cx="266.6" cy="142.1" r="1.7"/><circle cx="266.6" cy="142.7" r="1.7"/><circle cx="266.6" cy="143.2" r="1.7"/><circle cx="266.6" cy="143.5" r="1.7"/><circle cx="266.6" cy="144.3" r="1.7"/><circle cx="266.6" cy="144.9" r="1.7"/><circle cx="266.6" cy="145.4" r="1.7"/><circle cx="266.6" cy="146.0" r="1.7"/><circle cx="269.6" cy="117.9" r="1.7"/><circle cx="269.6" cy="118.5" r="1.7"/><circle cx="269.6" cy="118.8" r="1.7"/><circle cx="269.6" cy="119.7" r="1.7"/><circle cx="269.6" cy="120.4" r="1.7"/><circle cx="269.6" cy="120.9" r="1.7"/><circle cx="269.6" cy="121.2" r="1.7"/><circle cx="269.6" cy="122.2" r="1.7"/><circle cx="269.6" cy="122.7" r="1.7"/><circle cx="269.6" cy="123.1" r="1.7"/><circle cx="269.6" cy="123.6" r="1.7"/><circle cx="269.6" cy="124.4" r="1.7"/><circle cx="269.6" cy="124.6" r="1.7"/><circle cx="269.6" cy="125.5" r="1.7"/><circle cx="269.6" cy="126.1" r="1.7"/><circle cx="269.6" cy="126.6" r="1.7"/><circle cx="269.6" cy="127.4" r="1.7"/><circle cx="269.6" cy="127.7" r="1.7"/><circle cx="269.6" cy="128.3" r="1.7"/><circle cx="269.6" cy="128.8" r="1.7"/><circle cx="269.6" cy="129.7" r="1.7"/><circle cx="269.6" cy="129.9" r="1.7"/><circle cx="269.6" cy="130.8" r="1.7"/><circle cx="269.6" cy="131.2" r="1.7"/><circle cx="269.6" cy="132.1" r="1.7"/><circle cx="269.6" cy="132.6" r="1.7"/><circle cx="269.6" cy="133.8" r="1.7"/><circle cx="269.6" cy="134.2" r="1.7"/><circle cx="269.6" cy="134.4" r="1.7"/><circle cx="269.6" cy="135.3" r="1.7"/><circle cx="269.6" cy="135.6" r="1.7"/><circle cx="269.6" cy="136.5" r="1.7"/><circle cx="269.6" cy="136.8" r="1.7"/><circle cx="269.6" cy="137.5" r="1.7"/><circle cx="269.6" cy="138.0" r="1.7"/><circle cx="269.6" cy="138.8" r="1.7"/><circle cx="269.6" cy="139.5" r="1.7"/><circle cx="269.6" cy="139.9" r="1.7"/><circle cx="272.6" cy="114.5" r="1.7"/><circle cx="272.6" cy="115.1" r="1.7"/><circle cx="272.6" cy="115.4" r="1.7"/><circle cx="272.6" cy="116.2" r="1.7"/><circle cx="272.6" cy="117.1" r="1.7"/><circle cx="272.6" cy="117.2" r="1.7"/><circle cx="272.6" cy="118.2" r="1.7"/><circle cx="272.6" cy="118.7" r="1.7"/><circle cx="272.6" cy="119.0" r="1.7"/><circle cx="272.6" cy="119.9" r="1.7"/><circle cx="272.6" cy="120.2" r="1.7"/><circle cx="272.6" cy="121.1" r="1.7"/><circle cx="272.6" cy="121.8" r="1.7"/><circle cx="272.6" cy="122.8" r="1.7"/><circle cx="272.6" cy="123.2" r="1.7"/><circle cx="272.6" cy="123.6" r="1.7"/><circle cx="272.6" cy="124.4" r="1.7"/><circle cx="272.6" cy="124.9" r="1.7"/><circle cx="272.6" cy="125.6" r="1.7"/><circle cx="272.6" cy="126.3" r="1.7"/><circle cx="272.6" cy="126.9" r="1.7"/><circle cx="272.6" cy="127.9" r="1.7"/><circle cx="272.6" cy="128.8" r="1.7"/><circle cx="272.6" cy="129.0" r="1.7"/><circle cx="272.6" cy="129.8" r="1.7"/><circle cx="272.6" cy="130.0" r="1.7"/><circle cx="272.6" cy="131.0" r="1.7"/><circle cx="272.6" cy="131.4" r="1.7"/><circle cx="272.6" cy="132.2" r="1.7"/><circle cx="272.6" cy="132.7" r="1.7"/><circle cx="272.6" cy="133.3" r="1.7"/><circle cx="272.6" cy="133.4" r="1.7"/><circle cx="272.6" cy="134.3" r="1.7"/><circle cx="275.7" cy="108.2" r="1.7"/><circle cx="275.7" cy="108.7" r="1.7"/><circle cx="275.7" cy="109.3" r="1.7"/><circle cx="275.7" cy="110.0" r="1.7"/><circle cx="275.7" cy="110.6" r="1.7"/><circle cx="275.7" cy="111.4" r="1.7"/><circle cx="275.7" cy="112.1" r="1.7"/><circle cx="275.7" cy="112.8" r="1.7"/><circle cx="275.7" cy="113.7" r="1.7"/><circle cx="275.7" cy="114.1" r="1.7"/><circle cx="275.7" cy="114.6" r="1.7"/><circle cx="275.7" cy="115.4" r="1.7"/><circle cx="275.7" cy="115.9" r="1.7"/><circle cx="275.7" cy="116.2" r="1.7"/><circle cx="275.7" cy="116.7" r="1.7"/><circle cx="275.7" cy="117.5" r="1.7"/><circle cx="275.7" cy="118.3" r="1.7"/><circle cx="275.7" cy="118.8" r="1.7"/><circle cx="275.7" cy="119.0" r="1.7"/><circle cx="275.7" cy="119.8" r="1.7"/><circle cx="275.7" cy="120.4" r="1.7"/><circle cx="275.7" cy="121.1" r="1.7"/><circle cx="275.7" cy="121.7" r="1.7"/><circle cx="275.7" cy="122.5" r="1.7"/><circle cx="275.7" cy="122.7" r="1.7"/><circle cx="275.7" cy="123.3" r="1.7"/><circle cx="275.7" cy="124.0" r="1.7"/><circle cx="275.7" cy="124.7" r="1.7"/><circle cx="275.7" cy="125.2" r="1.7"/><circle cx="275.7" cy="125.7" r="1.7"/><circle cx="275.7" cy="126.5" r="1.7"/><circle cx="275.7" cy="126.8" r="1.7"/><circle cx="275.7" cy="127.7" r="1.7"/><circle cx="275.7" cy="127.9" r="1.7"/><circle cx="275.7" cy="128.4" r="1.7"/><circle cx="275.7" cy="129.4" r="1.7"/><circle cx="275.7" cy="129.8" r="1.7"/><circle cx="278.7" cy="106.7" r="1.7"/><circle cx="278.7" cy="107.3" r="1.7"/><circle cx="278.7" cy="107.8" r="1.7"/><circle cx="278.7" cy="108.2" r="1.7"/><circle cx="278.7" cy="109.1" r="1.7"/><circle cx="278.7" cy="110.4" r="1.7"/><circle cx="278.7" cy="110.9" r="1.7"/><circle cx="278.7" cy="111.1" r="1.7"/><circle cx="278.7" cy="111.6" r="1.7"/><circle cx="278.7" cy="112.6" r="1.7"/><circle cx="278.7" cy="113.0" r="1.7"/><circle cx="278.7" cy="113.3" r="1.7"/><circle cx="278.7" cy="114.1" r="1.7"/><circle cx="278.7" cy="114.5" r="1.7"/><circle cx="278.7" cy="115.2" r="1.7"/><circle cx="278.7" cy="115.9" r="1.7"/><circle cx="278.7" cy="116.6" r="1.7"/><circle cx="278.7" cy="117.1" r="1.7"/><circle cx="278.7" cy="118.1" r="1.7"/><circle cx="278.7" cy="118.7" r="1.7"/><circle cx="278.7" cy="119.5" r="1.7"/><circle cx="278.7" cy="120.4" r="1.7"/><circle cx="278.7" cy="121.2" r="1.7"/><circle cx="278.7" cy="121.5" r="1.7"/><circle cx="278.7" cy="122.0" r="1.7"/><circle cx="278.7" cy="122.7" r="1.7"/><circle cx="278.7" cy="123.1" r="1.7"/><circle cx="278.7" cy="124.1" r="1.7"/><circle cx="278.7" cy="124.1" r="1.7"/><circle cx="278.7" cy="125.0" r="1.7"/><circle cx="281.8" cy="99.1" r="1.7"/><circle cx="281.8" cy="120.5" r="1.7"/><circle cx="281.8" cy="100.9" r="1.7"/><circle cx="281.8" cy="114.3" r="1.7"/><circle cx="281.8" cy="105.3" r="1.7"/><circle cx="281.8" cy="118.4" r="1.7"/><circle cx="281.8" cy="119.1" r="1.7"/><circle cx="281.8" cy="104.5" r="1.7"/><circle cx="281.8" cy="107.4" r="1.7"/><circle cx="281.8" cy="119.7" r="1.7"/><circle cx="281.8" cy="115.4" r="1.7"/><circle cx="281.8" cy="100.3" r="1.7"/><circle cx="281.8" cy="114.1" r="1.7"/><circle cx="281.8" cy="118.7" r="1.7"/><circle cx="281.8" cy="114.4" r="1.7"/><circle cx="281.8" cy="117.6" r="1.7"/><circle cx="281.8" cy="117.1" r="1.7"/><circle cx="281.8" cy="106.7" r="1.7"/><circle cx="281.8" cy="101.2" r="1.7"/><circle cx="281.8" cy="114.7" r="1.7"/><circle cx="281.8" cy="102.0" r="1.7"/><circle cx="281.8" cy="111.1" r="1.7"/><circle cx="281.8" cy="110.2" r="1.7"/><circle cx="281.8" cy="119.4" r="1.7"/><circle cx="281.8" cy="118.6" r="1.7"/><circle cx="281.8" cy="106.1" r="1.7"/><circle cx="281.8" cy="101.8" r="1.7"/><circle cx="281.8" cy="103.0" r="1.7"/><circle cx="281.8" cy="99.2" r="1.7"/><circle cx="281.8" cy="111.9" r="1.7"/><circle cx="281.8" cy="113.5" r="1.7"/><circle cx="284.8" cy="96.8" r="1.7"/><circle cx="284.8" cy="114.9" r="1.7"/><circle cx="284.8" cy="97.6" r="1.7"/><circle cx="284.8" cy="98.5" r="1.7"/><circle cx="284.8" cy="105.8" r="1.7"/><circle cx="284.8" cy="97.7" r="1.7"/><circle cx="284.8" cy="105.9" r="1.7"/><circle cx="284.8" cy="110.1" r="1.7"/><circle cx="284.8" cy="108.7" r="1.7"/><circle cx="284.8" cy="108.0" r="1.7"/><circle cx="284.8" cy="101.1" r="1.7"/><circle cx="284.8" cy="113.0" r="1.7"/><circle cx="284.8" cy="99.0" r="1.7"/><circle cx="284.8" cy="106.4" r="1.7"/><circle cx="284.8" cy="113.8" r="1.7"/><circle cx="284.8" cy="99.9" r="1.7"/><circle cx="284.8" cy="104.2" r="1.7"/><circle cx="284.8" cy="106.7" r="1.7"/><circle cx="284.8" cy="109.8" r="1.7"/><circle cx="284.8" cy="103.1" r="1.7"/><circle cx="284.8" cy="98.2" r="1.7"/><circle cx="284.8" cy="109.6" r="1.7"/><circle cx="284.8" cy="114.4" r="1.7"/><circle cx="284.8" cy="97.1" r="1.7"/><circle cx="284.8" cy="110.8" r="1.7"/><circle cx="284.8" cy="105.1" r="1.7"/><circle cx="284.8" cy="106.3" r="1.7"/><circle cx="284.8" cy="114.7" r="1.7"/><circle cx="287.8" cy="93.9" r="1.7"/><circle cx="287.8" cy="110.6" r="1.7"/><circle cx="287.8" cy="105.4" r="1.7"/><circle cx="287.8" cy="100.4" r="1.7"/><circle cx="287.8" cy="105.9" r="1.7"/><circle cx="287.8" cy="101.7" r="1.7"/><circle cx="287.8" cy="100.8" r="1.7"/><circle cx="287.8" cy="100.0" r="1.7"/><circle cx="287.8" cy="102.1" r="1.7"/><circle cx="287.8" cy="98.6" r="1.7"/><circle cx="287.8" cy="97.9" r="1.7"/><circle cx="287.8" cy="96.4" r="1.7"/><circle cx="287.8" cy="101.2" r="1.7"/><circle cx="287.8" cy="98.8" r="1.7"/><circle cx="287.8" cy="107.9" r="1.7"/><circle cx="287.8" cy="99.6" r="1.7"/><circle cx="287.8" cy="104.2" r="1.7"/><circle cx="287.8" cy="109.0" r="1.7"/><circle cx="287.8" cy="103.2" r="1.7"/><circle cx="287.8" cy="104.8" r="1.7"/><circle cx="287.8" cy="110.0" r="1.7"/><circle cx="290.9" cy="91.7" r="1.7"/><circle cx="290.9" cy="105.9" r="1.7"/><circle cx="290.9" cy="101.1" r="1.7"/><circle cx="290.9" cy="103.0" r="1.7"/><circle cx="290.9" cy="100.7" r="1.7"/><circle cx="290.9" cy="104.0" r="1.7"/><circle cx="290.9" cy="96.3" r="1.7"/><circle cx="290.9" cy="101.7" r="1.7"/><circle cx="290.9" cy="95.4" r="1.7"/><circle cx="290.9" cy="98.9" r="1.7"/><circle cx="290.9" cy="94.6" r="1.7"/><circle cx="290.9" cy="92.6" r="1.7"/><circle cx="327.4" cy="38.3" r="1.7"/><circle cx="318.2" cy="45.8" r="1.7"/><circle cx="321.3" cy="45.2" r="1.7"/><circle cx="324.3" cy="45.5" r="1.7"/><circle cx="318.2" cy="49.2" r="1.7"/><circle cx="315.2" cy="52.5" r="1.7"/><circle cx="312.2" cy="57.4" r="1.7"/><circle cx="315.2" cy="57.1" r="1.7"/><circle cx="318.2" cy="57.4" r="1.7"/><circle cx="312.2" cy="62.2" r="1.7"/><circle cx="315.2" cy="61.8" r="1.7"/><circle cx="309.1" cy="61.2" r="1.7"/><circle cx="306.1" cy="64.7" r="1.7"/><circle cx="306.1" cy="65.9" r="1.7"/><circle cx="309.1" cy="70.5" r="1.7"/><circle cx="306.1" cy="72.4" r="1.7"/><circle cx="303.0" cy="76.3" r="1.7"/><circle cx="300.0" cy="77.8" r="1.7"/><circle cx="303.0" cy="78.9" r="1.7"/><circle cx="306.1" cy="78.3" r="1.7"/><circle cx="300.0" cy="80.4" r="1.7"/><circle cx="297.0" cy="80.4" r="1.7"/><circle cx="293.9" cy="82.6" r="1.7"/><circle cx="297.0" cy="83.3" r="1.7"/><circle cx="300.0" cy="84.4" r="1.7"/><circle cx="303.0" cy="81.8" r="1.7"/><circle cx="293.9" cy="86.2" r="1.7"/><circle cx="297.0" cy="85.5" r="1.7"/><circle cx="290.9" cy="86.9" r="1.7"/><circle cx="290.9" cy="89.1" r="1.7"/><circle cx="293.9" cy="89.1" r="1.7"/><circle cx="300.0" cy="90.0" r="1.7"/><circle cx="297.0" cy="93.5" r="1.7"/><circle cx="293.9" cy="97.0" r="1.7"/><circle cx="297.0" cy="98.5" r="1.7"/><circle cx="293.9" cy="92.0" r="1.7"/><circle cx="290.9" cy="94.0" r="1.7"/><circle cx="293.9" cy="97.2" r="1.7"/><circle cx="297.0" cy="98.8" r="1.7"/><circle cx="293.9" cy="103.8" r="1.7"/><circle cx="300.0" cy="84.3" r="1.7"/><circle cx="303.0" cy="81.0" r="1.7"/><circle cx="290.9" cy="88.0" r="1.7"/><circle cx="293.9" cy="82.2" r="1.7"/><circle cx="293.9" cy="84.3" r="1.7"/><circle cx="287.8" cy="96.0" r="1.7"/><circle cx="287.8" cy="101.0" r="1.7"/><circle cx="281.8" cy="104.0" r="1.7"/></g>
<path d="M223.4 31.4H336.6M336.6 31.4V199.4M336.6 199.4H223.4M223.4 199.4V31.4" fill="none" stroke="#000" stroke-width="0.8" stroke-linecap="square"/>
<text transform="translate(220.67 214.3) scale(1.0039 1)" x="0" font-size="10.5" fill="#303030">0</text>
<text transform="translate(278.17 214.3) scale(0.9858 1)" x="0 6.59" font-size="10.5" fill="#303030">20</text>
<path d="M223.6 199.4v3.5M284.4 199.4v3.5" stroke="#000" stroke-width="0.8"/>
<text transform="translate(199.88 201.2) scale(1.0128 1)" x="0 6.17 9.42" font-size="10.5" fill="#303030">0.0</text>
<text transform="translate(200.25 161.98) scale(1.0007 1)" x="0 6.23 9.4" font-size="10.5" fill="#303030">0.2</text>
<text transform="translate(199.78 122.75) scale(1.0128 1)" x="0 6.17 9.42" font-size="10.5" fill="#303030">0.4</text>
<text transform="translate(199.81 83.53) scale(1.0245 1)" x="0 6.12 9.31" font-size="10.5" fill="#303030">0.6</text>
<text transform="translate(199.89 44.3) scale(1.0164 1)" x="0 6.15 9.39" font-size="10.5" fill="#303030">0.8</text>
<path d="M223.4 196.8h-3.5M223.4 157.58h-3.5M223.4 118.35h-3.5M223.4 79.13h-3.5M223.4 39.9h-3.5" stroke="#000" stroke-width="0.8"/>
<g fill="#0000ff" fill-opacity="0.75"><circle cx="226.5" cy="438.1" r="1.7"/><circle cx="226.5" cy="438.5" r="1.7"/><circle cx="226.5" cy="439.0" r="1.7"/><circle cx="229.6" cy="433.2" r="1.7"/><circle cx="229.6" cy="433.8" r="1.7"/><circle cx="229.6" cy="434.2" r="1.7"/><circle cx="229.6" cy="434.8" r="1.7"/><circle cx="229.6" cy="435.2" r="1.7"/><circle cx="229.6" cy="435.5" r="1.7"/><circle cx="229.6" cy="436.3" r="1.7"/><circle cx="229.6" cy="436.7" r="1.7"/><circle cx="229.6" cy="437.2" r="1.7"/><circle cx="232.6" cy="428.1" r="1.7"/><circle cx="232.6" cy="428.4" r="1.7"/><circle cx="232.6" cy="429.2" r="1.7"/><circle cx="232.6" cy="429.7" r="1.7"/><circle cx="232.6" cy="430.4" r="1.7"/><circle cx="232.6" cy="430.9" r="1.7"/><circle cx="232.6" cy="431.9" r="1.7"/><circle cx="232.6" cy="432.1" r="1.7"/><circle cx="232.6" cy="432.9" r="1.7"/><circle cx="232.6" cy="433.2" r="1.7"/><circle cx="232.6" cy="433.8" r="1.7"/><circle cx="235.7" cy="422.8" r="1.7"/><circle cx="235.7" cy="423.4" r="1.7"/><circle cx="235.7" cy="424.0" r="1.7"/><circle cx="235.7" cy="424.5" r="1.7"/><circle cx="235.7" cy="425.1" r="1.7"/><circle cx="235.7" cy="425.5" r="1.7"/><circle cx="235.7" cy="426.2" r="1.7"/><circle cx="235.7" cy="426.5" r="1.7"/><circle cx="235.7" cy="427.2" r="1.7"/><circle cx="235.7" cy="427.7" r="1.7"/><circle cx="235.7" cy="428.3" r="1.7"/><circle cx="235.7" cy="428.5" r="1.7"/><circle cx="235.7" cy="429.3" r="1.7"/><circle cx="235.7" cy="429.8" r="1.7"/><circle cx="238.7" cy="418.9" r="1.7"/><circle cx="238.7" cy="419.2" r="1.7"/><circle cx="238.7" cy="420.1" r="1.7"/><circle cx="238.7" cy="420.8" r="1.7"/><circle cx="238.7" cy="421.0" r="1.7"/><circle cx="238.7" cy="421.4" r="1.7"/><circle cx="238.7" cy="422.3" r="1.7"/><circle cx="238.7" cy="422.6" r="1.7"/><circle cx="238.7" cy="423.6" r="1.7"/><circle cx="238.7" cy="423.7" r="1.7"/><circle cx="238.7" cy="424.3" r="1.7"/><circle cx="238.7" cy="425.0" r="1.7"/><circle cx="238.7" cy="425.3" r="1.7"/><circle cx="238.7" cy="426.0" r="1.7"/><circle cx="238.7" cy="426.5" r="1.7"/><circle cx="238.7" cy="427.2" r="1.7"/><circle cx="241.7" cy="414.1" r="1.7"/><circle cx="241.7" cy="414.6" r="1.7"/><circle cx="241.7" cy="415.4" r="1.7"/><circle cx="241.7" cy="416.3" r="1.7"/><circle cx="241.7" cy="416.8" r="1.7"/><circle cx="241.7" cy="417.2" r="1.7"/><circle cx="241.7" cy="418.1" r="1.7"/><circle cx="241.7" cy="418.5" r="1.7"/><circle cx="241.7" cy="418.7" r="1.7"/><circle cx="241.7" cy="419.3" r="1.7"/><circle cx="241.7" cy="420.2" r="1.7"/><circle cx="241.7" cy="420.8" r="1.7"/><circle cx="241.7" cy="421.1" r="1.7"/><circle cx="241.7" cy="421.8" r="1.7"/><circle cx="241.7" cy="422.4" r="1.7"/><circle cx="241.7" cy="422.8" r="1.7"/><circle cx="241.7" cy="423.2" r="1.7"/><circle cx="244.8" cy="410.3" r="1.7"/><circle cx="244.8" cy="410.8" r="1.7"/><circle cx="244.8" cy="411.5" r="1.7"/><circle cx="244.8" cy="412.2" r="1.7"/><circle cx="244.8" cy="412.4" r="1.7"/><circle cx="244.8" cy="413.0" r="1.7"/><circle cx="244.8" cy="413.4" r="1.7"/><circle cx="244.8" cy="414.3" r="1.7"/><circle cx="244.8" cy="414.7" r="1.7"/><circle cx="244.8" cy="415.5" r="1.7"/><circle cx="244.8" cy="415.7" r="1.7"/><circle cx="244.8" cy="416.5" r="1.7"/><circle cx="244.8" cy="417.0" r="1.7"/><circle cx="244.8" cy="417.5" r="1.7"/><circle cx="244.8" cy="417.8" r="1.7"/><circle cx="244.8" cy="418.5" r="1.7"/><circle cx="244.8" cy="419.3" r="1.7"/><circle cx="244.8" cy="419.5" r="1.7"/><circle cx="244.8" cy="420.2" r="1.7"/><circle cx="247.8" cy="406.1" r="1.7"/><circle cx="247.8" cy="406.5" r="1.7"/><circle cx="247.8" cy="407.4" r="1.7"/><circle cx="247.8" cy="408.0" r="1.7"/><circle cx="247.8" cy="408.6" r="1.7"/><circle cx="247.8" cy="409.1" r="1.7"/><circle cx="247.8" cy="409.5" r="1.7"/><circle cx="247.8" cy="409.8" r="1.7"/><circle cx="247.8" cy="410.7" r="1.7"/><circle cx="247.8" cy="411.2" r="1.7"/><circle cx="247.8" cy="411.7" r="1.7"/><circle cx="247.8" cy="412.2" r="1.7"/><circle cx="247.8" cy="412.9" r="1.7"/><circle cx="247.8" cy="413.9" r="1.7"/><circle cx="247.8" cy="414.3" r="1.7"/><circle cx="247.8" cy="414.8" r="1.7"/><circle cx="247.8" cy="415.3" r="1.7"/><circle cx="247.8" cy="416.0" r="1.7"/><circle cx="250.9" cy="401.1" r="1.7"/><circle cx="250.9" cy="401.5" r="1.7"/><circle cx="250.9" cy="402.1" r="1.7"/><circle cx="250.9" cy="402.9" r="1.7"/><circle cx="250.9" cy="403.4" r="1.7"/><circle cx="250.9" cy="403.9" r="1.7"/><circle cx="250.9" cy="404.7" r="1.7"/><circle cx="250.9" cy="405.5" r="1.7"/><circle cx="250.9" cy="405.8" r="1.7"/><circle cx="250.9" cy="406.5" r="1.7"/><circle cx="250.9" cy="407.4" r="1.7"/><circle cx="250.9" cy="408.4" r="1.7"/><circle cx="250.9" cy="409.0" r="1.7"/><circle cx="250.9" cy="409.3" r="1.7"/><circle cx="250.9" cy="410.1" r="1.7"/><circle cx="250.9" cy="410.4" r="1.7"/><circle cx="250.9" cy="410.9" r="1.7"/><circle cx="250.9" cy="411.5" r="1.7"/><circle cx="250.9" cy="411.9" r="1.7"/><circle cx="250.9" cy="412.6" r="1.7"/><circle cx="253.9" cy="395.3" r="1.7"/><circle cx="253.9" cy="396.1" r="1.7"/><circle cx="253.9" cy="396.8" r="1.7"/><circle cx="253.9" cy="397.8" r="1.7"/><circle cx="253.9" cy="398.9" r="1.7"/><circle cx="253.9" cy="399.4" r="1.7"/><circle cx="253.9" cy="399.9" r="1.7"/><circle cx="253.9" cy="400.3" r="1.7"/><circle cx="253.9" cy="400.7" r="1.7"/><circle cx="253.9" cy="401.2" r="1.7"/><circle cx="253.9" cy="401.8" r="1.7"/><circle cx="253.9" cy="402.5" r="1.7"/><circle cx="253.9" cy="403.1" r="1.7"/><circle cx="253.9" cy="404.0" r="1.7"/><circle cx="253.9" cy="404.3" r="1.7"/><circle cx="253.9" cy="405.1" r="1.7"/><circle cx="253.9" cy="405.5" r="1.7"/><circle cx="253.9" cy="405.8" r="1.7"/><circle cx="253.9" cy="406.6" r="1.7"/><circle cx="253.9" cy="406.9" r="1.7"/><circle cx="253.9" cy="407.4" r="1.7"/><circle cx="253.9" cy="408.5" r="1.7"/><circle cx="253.9" cy="408.8" r="1.7"/><circle cx="256.9" cy="390.7" r="1.7"/><circle cx="256.9" cy="391.1" r="1.7"/><circle cx="256.9" cy="392.0" r="1.7"/><circle cx="256.9" cy="392.4" r="1.7"/><circle cx="256.9" cy="392.7" r="1.7"/><circle cx="256.9" cy="393.7" r="1.7"/><circle cx="256.9" cy="394.0" r="1.7"/><circle cx="256.9" cy="394.9" r="1.7"/><circle cx="256.9" cy="395.3" r="1.7"/><circle cx="256.9" cy="395.9" r="1.7"/><circle cx="256.9" cy="396.4" r="1.7"/><circle cx="256.9" cy="397.1" r="1.7"/><circle cx="256.9" cy="397.9" r="1.7"/><circle cx="256.9" cy="398.3" r="1.7"/><circle cx="256.9" cy="398.5" r="1.7"/><circle cx="256.9" cy="399.3" r="1.7"/><circle cx="256.9" cy="399.7" r="1.7"/><circle cx="256.9" cy="400.2" r="1.7"/><circle cx="256.9" cy="400.8" r="1.7"/><circle cx="256.9" cy="401.4" r="1.7"/><circle cx="256.9" cy="402.4" r="1.7"/><circle cx="256.9" cy="402.9" r="1.7"/><circle cx="256.9" cy="403.5" r="1.7"/><circle cx="256.9" cy="404.0" r="1.7"/><circle cx="256.9" cy="404.3" r="1.7"/><circle cx="256.9" cy="405.0" r="1.7"/><circle cx="260.0" cy="387.0" r="1.7"/><circle cx="260.0" cy="387.5" r="1.7"/><circle cx="260.0" cy="388.1" r="1.7"/><circle cx="260.0" cy="388.9" r="1.7"/><circle cx="260.0" cy="389.0" r="1.7"/><circle cx="260.0" cy="389.7" r="1.7"/><circle cx="260.0" cy="390.4" r="1.7"/><circle cx="260.0" cy="391.1" r="1.7"/><circle cx="260.0" cy="391.6" r="1.7"/><circle cx="260.0" cy="392.2" r="1.7"/><circle cx="260.0" cy="392.4" r="1.7"/><circle cx="260.0" cy="393.0" r="1.7"/><circle cx="260.0" cy="393.6" r="1.7"/><circle cx="260.0" cy="394.2" r="1.7"/><circle cx="260.0" cy="395.0" r="1.7"/><circle cx="260.0" cy="395.7" r="1.7"/><circle cx="260.0" cy="396.1" r="1.7"/><circle cx="260.0" cy="396.3" r="1.7"/><circle cx="260.0" cy="397.0" r="1.7"/><circle cx="260.0" cy="397.9" r="1.7"/><circle cx="260.0" cy="398.5" r="1.7"/><circle cx="260.0" cy="398.9" r="1.7"/><circle cx="260.0" cy="399.3" r="1.7"/><circle cx="260.0" cy="399.8" r="1.7"/><circle cx="260.0" cy="400.5" r="1.7"/><circle cx="263.0" cy="382.3" r="1.7"/><circle cx="263.0" cy="382.8" r="1.7"/><circle cx="263.0" cy="383.3" r="1.7"/><circle cx="263.0" cy="383.8" r="1.7"/><circle cx="263.0" cy="384.4" r="1.7"/><circle cx="263.0" cy="385.4" r="1.7"/><circle cx="263.0" cy="385.9" r="1.7"/><circle cx="263.0" cy="386.6" r="1.7"/><circle cx="263.0" cy="387.4" r="1.7"/><circle cx="263.0" cy="388.3" r="1.7"/><circle cx="263.0" cy="388.7" r="1.7"/><circle cx="263.0" cy="389.0" r="1.7"/><circle cx="263.0" cy="389.7" r="1.7"/><circle cx="263.0" cy="390.5" r="1.7"/><circle cx="263.0" cy="391.1" r="1.7"/><circle cx="263.0" cy="391.5" r="1.7"/><circle cx="263.0" cy="391.9" r="1.7"/><circle cx="263.0" cy="392.9" r="1.7"/><circle cx="263.0" cy="393.2" r="1.7"/><circle cx="263.0" cy="393.9" r="1.7"/><circle cx="263.0" cy="394.4" r="1.7"/><circle cx="263.0" cy="394.7" r="1.7"/><circle cx="263.0" cy="395.4" r="1.7"/><circle cx="263.0" cy="395.8" r="1.7"/><circle cx="263.0" cy="396.5" r="1.7"/><circle cx="263.0" cy="397.3" r="1.7"/><circle cx="266.1" cy="379.6" r="1.7"/><circle cx="266.1" cy="393.9" r="1.7"/><circle cx="266.1" cy="385.5" r="1.7"/><circle cx="266.1" cy="384.2" r="1.7"/><circle cx="266.1" cy="384.8" r="1.7"/><circle cx="266.1" cy="391.3" r="1.7"/><circle cx="266.1" cy="379.9" r="1.7"/><circle cx="266.1" cy="381.1" r="1.7"/><circle cx="266.1" cy="387.2" r="1.7"/><circle cx="266.1" cy="385.9" r="1.7"/><circle cx="266.1" cy="383.4" r="1.7"/><circle cx="266.1" cy="382.8" r="1.7"/><circle cx="266.1" cy="391.9" r="1.7"/><circle cx="266.1" cy="391.4" r="1.7"/><circle cx="266.1" cy="392.3" r="1.7"/><circle cx="266.1" cy="383.9" r="1.7"/><circle cx="266.1" cy="389.0" r="1.7"/><circle cx="269.1" cy="377.3" r="1.7"/><circle cx="269.1" cy="388.8" r="1.7"/><circle cx="269.1" cy="386.5" r="1.7"/><circle cx="269.1" cy="387.2" r="1.7"/><circle cx="269.1" cy="382.9" r="1.7"/><circle cx="269.1" cy="387.0" r="1.7"/><circle cx="269.1" cy="382.6" r="1.7"/><circle cx="269.1" cy="380.4" r="1.7"/><circle cx="269.1" cy="382.8" r="1.7"/><circle cx="269.1" cy="381.2" r="1.7"/><circle cx="269.1" cy="386.1" r="1.7"/><circle cx="269.1" cy="386.9" r="1.7"/><circle cx="269.1" cy="378.9" r="1.7"/><circle cx="269.1" cy="379.2" r="1.7"/><circle cx="269.1" cy="381.7" r="1.7"/><circle cx="272.1" cy="374.1" r="1.7"/><circle cx="272.1" cy="384.1" r="1.7"/><circle cx="272.1" cy="383.7" r="1.7"/><circle cx="272.1" cy="383.6" r="1.7"/><circle cx="272.1" cy="381.4" r="1.7"/><circle cx="272.1" cy="380.9" r="1.7"/><circle cx="272.1" cy="376.8" r="1.7"/><circle cx="272.1" cy="377.8" r="1.7"/><circle cx="275.2" cy="372.0" r="1.7"/><circle cx="275.2" cy="383.0" r="1.7"/><circle cx="275.2" cy="381.2" r="1.7"/><circle cx="275.2" cy="375.0" r="1.7"/><circle cx="275.2" cy="372.9" r="1.7"/><circle cx="275.2" cy="375.5" r="1.7"/><circle cx="329.9" cy="286.5" r="1.7"/><circle cx="308.6" cy="323.4" r="1.7"/><circle cx="308.6" cy="324.9" r="1.7"/><circle cx="311.7" cy="329.4" r="1.7"/><circle cx="305.6" cy="332.0" r="1.7"/><circle cx="302.5" cy="332.8" r="1.7"/><circle cx="296.5" cy="332.8" r="1.7"/><circle cx="296.5" cy="334.3" r="1.7"/><circle cx="299.5" cy="335.4" r="1.7"/><circle cx="293.4" cy="336.9" r="1.7"/><circle cx="296.5" cy="340.6" r="1.7"/><circle cx="299.5" cy="341.7" r="1.7"/><circle cx="293.4" cy="343.4" r="1.7"/><circle cx="290.4" cy="344.0" r="1.7"/><circle cx="287.3" cy="345.8" r="1.7"/><circle cx="293.4" cy="345.8" r="1.7"/><circle cx="299.5" cy="347.3" r="1.7"/><circle cx="299.5" cy="350.0" r="1.7"/><circle cx="296.5" cy="352.2" r="1.7"/><circle cx="293.4" cy="353.3" r="1.7"/><circle cx="284.3" cy="350.9" r="1.7"/><circle cx="290.4" cy="353.3" r="1.7"/><circle cx="287.3" cy="353.3" r="1.7"/><circle cx="284.3" cy="353.3" r="1.7"/><circle cx="281.3" cy="355.2" r="1.7"/><circle cx="284.3" cy="355.6" r="1.7"/><circle cx="284.3" cy="358.4" r="1.7"/><circle cx="290.4" cy="358.9" r="1.7"/><circle cx="278.2" cy="360.4" r="1.7"/><circle cx="278.2" cy="362.1" r="1.7"/><circle cx="284.3" cy="362.6" r="1.7"/><circle cx="287.3" cy="362.1" r="1.7"/><circle cx="290.4" cy="363.0" r="1.7"/><circle cx="278.2" cy="364.9" r="1.7"/><circle cx="275.2" cy="367.1" r="1.7"/><circle cx="272.1" cy="368.2" r="1.7"/><circle cx="284.3" cy="368.2" r="1.7"/><circle cx="272.1" cy="368.7" r="1.7"/><circle cx="275.2" cy="368.0" r="1.7"/><circle cx="281.3" cy="371.2" r="1.7"/><circle cx="281.3" cy="373.0" r="1.7"/><circle cx="278.2" cy="373.7" r="1.7"/><circle cx="290.4" cy="358.7" r="1.7"/><circle cx="263.0" cy="401.0" r="1.7"/><circle cx="272.1" cy="387.3" r="1.7"/></g>
<path d="M223.4 279.5H336.6M336.6 279.5V447.4M336.6 447.4H223.4M223.4 447.4V279.5" fill="none" stroke="#000" stroke-width="0.8" stroke-linecap="square"/>
<text transform="translate(220.57 462.3) scale(1.0039 1)" x="0" font-size="10.5" fill="#303030">0</text>
<text transform="translate(278.07 462.3) scale(0.9858 1)" x="0 6.59" font-size="10.5" fill="#303030">20</text>
<path d="M223.5 447.4v3.5M284.3 447.4v3.5" stroke="#000" stroke-width="0.8"/>
<text transform="translate(199.88 444.5) scale(1.0128 1)" x="0 6.17 9.42" font-size="10.5" fill="#303030">0.0</text>
<text transform="translate(200.18 418.4) scale(0.9978 1)" x="0 6.24 9.51" font-size="10.5" fill="#303030">0.1</text>
<text transform="translate(200.25 392.3) scale(1.0007 1)" x="0 6.23 9.4" font-size="10.5" fill="#303030">0.2</text>
<text transform="translate(200.06 366.2) scale(0.9995 1)" x="0 6.23 9.56" font-size="10.5" fill="#303030">0.3</text>
<text transform="translate(199.78 340.1) scale(1.0128 1)" x="0 6.17 9.42" font-size="10.5" fill="#303030">0.4</text>
<text transform="translate(200.15 314) scale(0.9940 1)" x="0 6.26 9.56" font-size="10.5" fill="#303030">0.5</text>
<text transform="translate(199.81 287.9) scale(1.0245 1)" x="0 6.12 9.31" font-size="10.5" fill="#303030">0.6</text>
<path d="M223.4 440.1h-3.5M223.4 414h-3.5M223.4 387.9h-3.5M223.4 361.8h-3.5M223.4 335.7h-3.5M223.4 309.6h-3.5M223.4 283.5h-3.5" stroke="#000" stroke-width="0.8"/>
<path d="M410.5 199.4L410.5 198.3L412.67 198.3L412.67 194.5L414.83 194.5L414.83 192L417 192L417 187L419.17 187L419.17 180L421.33 180L421.33 172L423.5 172L423.5 167L425.67 167L425.67 171.5L427.84 171.5L427.84 167.8L430 167.8L430 149L432.17 149L432.17 121L434.34 121L434.34 106L436.5 106L436.5 110.3L438.67 110.3L438.67 115.3L440.84 115.3L440.84 111.5L443 111.5L443 120.3L445.17 120.3L445.17 140.8L447.34 140.8L447.34 162L449.51 162L449.51 182L451.67 182L451.67 194.5L453.84 194.5L453.84 198.5L456.01 198.5L456.01 199.4Z" fill="#ffa500" fill-opacity="0.6"/>
<path d="M415.4 199.4L415.4 197L416.85 197L416.85 187L418.3 187L418.3 150.3L419.75 150.3L419.75 117L421.2 117L421.2 71.7L422.65 71.7L422.65 46.8L424.1 46.8L424.1 43.1L425.55 43.1L425.55 55.2L427 55.2L427 69.3L428.45 69.3L428.45 96L429.9 96L429.9 119L431.35 119L431.35 134L432.8 134L432.8 153L434.25 153L434.25 163L435.7 163L435.7 176.4L437.15 176.4L437.15 183L438.6 183L438.6 188L440.05 188L440.05 190L441.5 190L441.5 193L442.95 193L442.95 196.3L444.4 196.3L444.4 198L445.85 198L445.85 199.4Z" fill="#0000ff" fill-opacity="0.6"/>
<path d="M393.5 31.4H506M506 31.4V199.4M506 199.4H393.5M393.5 199.4V31.4" fill="none" stroke="#000" stroke-width="0.8" stroke-linecap="square"/>
<text transform="translate(390.47 214.3) scale(1.0039 1)" x="0" font-size="10.5" fill="#303030">0</text>
<text transform="translate(424.77 214.3) scale(0.9757 1)" x="0 6.56" font-size="10.5" fill="#303030">50</text>
<text transform="translate(458.88 214.3) scale(0.9889 1)" x="0 6.49 12.92" font-size="10.5" fill="#303030">100</text>
<text transform="translate(496.44 214.3) scale(0.9701 1)" x="0 6.57 13.17" font-size="10.5" fill="#303030">150</text>
<path d="M393.4 199.4v3.5M430.9 199.4v3.5M468.4 199.4v3.5M505.9 199.4v3.5" stroke="#000" stroke-width="0.8"/>
<text transform="translate(363.63 203.8) scale(1.0106 1)" x="0 6.18 9.44 15.74" font-size="10.5" fill="#303030">0.00</text>
<text transform="translate(363.92 179.8) scale(0.9993 1)" x="0 6.23 9.55 15.86" font-size="10.5" fill="#303030">0.01</text>
<text transform="translate(363.99 155.8) scale(1.0015 1)" x="0 6.22 9.53 15.75" font-size="10.5" fill="#303030">0.02</text>
<text transform="translate(363.79 131.8) scale(1.0006 1)" x="0 6.23 9.53 15.91" font-size="10.5" fill="#303030">0.03</text>
<text transform="translate(363.52 107.8) scale(1.0106 1)" x="0 6.18 9.44 15.74" font-size="10.5" fill="#303030">0.04</text>
<text transform="translate(363.88 83.8) scale(0.9965 1)" x="0 6.25 9.57 15.92" font-size="10.5" fill="#303030">0.05</text>
<text transform="translate(363.57 59.8) scale(1.0194 1)" x="0 6.14 9.36 15.6" font-size="10.5" fill="#303030">0.06</text>
<text transform="translate(363.83 35.8) scale(1.0051 1)" x="0 6.2 9.49 15.8" font-size="10.5" fill="#303030">0.07</text>
<path d="M393.5 199.4h-3.5M393.5 175.4h-3.5M393.5 151.4h-3.5M393.5 127.4h-3.5M393.5 103.4h-3.5M393.5 79.4h-3.5M393.5 55.4h-3.5M393.5 31.4h-3.5" stroke="#000" stroke-width="0.8"/>
<path d="M574.7 199.4L574.7 195.4L576.65 195.4L576.65 191.7L578.6 191.7L578.6 186.7L580.55 186.7L580.55 178.6L582.5 178.6L582.5 165L584.45 165L584.45 151.2L586.4 151.2L586.4 138.9L588.35 138.9L588.35 117.8L590.3 117.8L590.3 111L592.25 111L592.25 106.4L594.2 106.4L594.2 99L596.15 99L596.15 103L598.1 103L598.1 108.9L600.05 108.9L600.05 117.3L602 117.3L602 146.2L603.95 146.2L603.95 158.7L605.9 158.7L605.9 174.9L607.85 174.9L607.85 192.3L609.8 192.3L609.8 197.5L611.75 197.5L611.75 199.4Z" fill="#ffa500" fill-opacity="0.6"/>
<path d="M619.9 199.4L619.9 191.7L622.07 191.7L622.07 175.8L624.24 175.8L624.24 167.9L626.41 167.9L626.41 152.9L628.58 152.9L628.58 143.2L630.75 143.2L630.75 138.8L632.92 138.8L632.92 124.7L635.09 124.7L635.09 128.2L637.26 128.2L637.26 125.6L639.43 125.6L639.43 122.9L641.6 122.9L641.6 122.9L643.77 122.9L643.77 132.6L645.94 132.6L645.94 145L648.11 145L648.11 152L650.28 152L650.28 165.3L652.45 165.3L652.45 175.8L654.62 175.8L654.62 184.7L656.79 184.7L656.79 187.3L658.96 187.3L658.96 192.6L661.13 192.6L661.13 196.1L663.3 196.1L663.3 197.9L665.47 197.9L665.47 199.4Z" fill="#0000ff" fill-opacity="0.6"/>
<path d="M562.2 31.4H674.8M674.8 31.4V199.4M674.8 199.4H562.2M562.2 199.4V31.4" fill="none" stroke="#000" stroke-width="0.8" stroke-linecap="square"/>
<text transform="translate(559.27 214.3) scale(1.0039 1)" x="0" font-size="10.5" fill="#303030">0</text>
<text transform="translate(593.61 214.3) scale(0.9757 1)" x="0 6.56" font-size="10.5" fill="#303030">50</text>
<text transform="translate(627.75 214.3) scale(0.9889 1)" x="0 6.49 12.92" font-size="10.5" fill="#303030">100</text>
<text transform="translate(665.34 214.3) scale(0.9701 1)" x="0 6.57 13.17" font-size="10.5" fill="#303030">150</text>
<path d="M562.2 199.4v3.5M599.73 199.4v3.5M637.27 199.4v3.5M674.8 199.4v3.5" stroke="#000" stroke-width="0.8"/>
<text transform="translate(532.33 203.8) scale(1.0106 1)" x="0 6.18 9.44 15.74" font-size="10.5" fill="#303030">0.00</text>
<text transform="translate(532.62 179.8) scale(0.9993 1)" x="0 6.23 9.55 15.86" font-size="10.5" fill="#303030">0.01</text>
<text transform="translate(532.69 155.8) scale(1.0015 1)" x="0 6.22 9.53 15.75" font-size="10.5" fill="#303030">0.02</text>
<text transform="translate(532.49 131.8) scale(1.0006 1)" x="0 6.23 9.53 15.91" font-size="10.5" fill="#303030">0.03</text>
<text transform="translate(532.22 107.8) scale(1.0106 1)" x="0 6.18 9.44 15.74" font-size="10.5" fill="#303030">0.04</text>
<text transform="translate(532.58 83.8) scale(0.9965 1)" x="0 6.25 9.57 15.92" font-size="10.5" fill="#303030">0.05</text>
<text transform="translate(532.27 59.8) scale(1.0194 1)" x="0 6.14 9.36 15.6" font-size="10.5" fill="#303030">0.06</text>
<text transform="translate(532.53 35.8) scale(1.0051 1)" x="0 6.2 9.49 15.8" font-size="10.5" fill="#303030">0.07</text>
<path d="M562.2 199.4h-3.5M562.2 175.4h-3.5M562.2 151.4h-3.5M562.2 127.4h-3.5M562.2 103.4h-3.5M562.2 79.4h-3.5M562.2 55.4h-3.5M562.2 31.4h-3.5" stroke="#000" stroke-width="0.8"/>
<path d="M413.6 447.4L413.6 433L416 433L416 404.7L418.4 404.7L418.4 373.5L420.8 373.5L420.8 332.8L423.2 332.8L423.2 299.3L425.6 299.3L425.6 282.5L428 282.5L428 294L430.4 294L430.4 324.9L432.8 324.9L432.8 345L435.2 345L435.2 366L437.6 366L437.6 393L440 393L440 409L442.4 409L442.4 422.5L444.8 422.5L444.8 430.7L447.2 430.7L447.2 435.6L449.6 435.6L449.6 440.5L452 440.5L452 443.8L454.4 443.8L454.4 444.5L456.8 444.5L456.8 446L459.2 446L459.2 447.4Z" fill="#ffa500" fill-opacity="0.6"/>
<path d="M402.9 447.4L402.9 401.2L407 401.2L407 384.6L411.1 384.6L411.1 395L415.2 395L415.2 393.6L419.3 393.6L419.3 393L423.4 393L423.4 387.8L427.5 387.8L427.5 401.1L431.6 401.1L431.6 409L435.7 409L435.7 403.6L439.8 403.6L439.8 397.9L443.9 397.9L443.9 402L448 402L448 410.2L452.1 410.2L452.1 419.2L456.2 419.2L456.2 428.2L460.3 428.2L460.3 435.6L464.4 435.6L464.4 440.5L468.5 440.5L468.5 443L472.6 443L472.6 445.7L476.7 445.7L476.7 446.5L480.8 446.5L480.8 447.4Z" fill="#0000ff" fill-opacity="0.6"/>
<path d="M393.5 279.5H506M506 279.5V447.4M506 447.4H393.5M393.5 447.4V279.5" fill="none" stroke="#000" stroke-width="0.8" stroke-linecap="square"/>
<text transform="translate(390.17 462.3) scale(1.0039 1)" x="0" font-size="10.5" fill="#303030">0</text>
<text transform="translate(421.07 462.3) scale(0.9919 1)" x="0 6.55 12.96" font-size="10.5" fill="#303030">200</text>
<text transform="translate(458.69 462.3) scale(1.0040 1)" x="0 6.34 12.67" font-size="10.5" fill="#303030">400</text>
<text transform="translate(495.95 462.3) scale(1.0156 1)" x="0 6.26 12.53" font-size="10.5" fill="#303030">600</text>
<path d="M393.1 447.4v3.5M430.5 447.4v3.5M467.9 447.4v3.5M505.3 447.4v3.5" stroke="#000" stroke-width="0.8"/>
<text transform="translate(357.27 451.8) scale(1.0093 1)" x="0 6.19 9.45 15.76 22.06" font-size="10.5" fill="#303030">0.000</text>
<text transform="translate(357.63 423.82) scale(1.0020 1)" x="0 6.22 9.52 15.87 22.09" font-size="10.5" fill="#303030">0.002</text>
<text transform="translate(357.17 395.83) scale(1.0093 1)" x="0 6.19 9.45 15.76 22.06" font-size="10.5" fill="#303030">0.004</text>
<text transform="translate(357.21 367.85) scale(1.0163 1)" x="0 6.15 9.39 15.65 21.91" font-size="10.5" fill="#303030">0.006</text>
<text transform="translate(357.28 339.87) scale(1.0114 1)" x="0 6.18 9.43 15.72 22.01" font-size="10.5" fill="#303030">0.008</text>
<text transform="translate(357.29 311.88) scale(1.0002 1)" x="0 6.23 9.54 15.85 22.26" font-size="10.5" fill="#303030">0.010</text>
<text transform="translate(357.65 283.9) scale(0.9930 1)" x="0 6.26 9.61 15.96 22.29" font-size="10.5" fill="#303030">0.012</text>
<path d="M393.5 447.4h-3.5M393.5 419.42h-3.5M393.5 391.43h-3.5M393.5 363.45h-3.5M393.5 335.47h-3.5M393.5 307.48h-3.5M393.5 279.5h-3.5" stroke="#000" stroke-width="0.8"/>
<path d="M588.2 447.4L588.2 437.3L590.65 437.3L590.65 413.5L593.1 413.5L593.1 392L595.55 392L595.55 369.3L598 369.3L598 362.2L600.45 362.2L600.45 355.9L602.9 355.9L602.9 349L605.35 349L605.35 351.2L607.8 351.2L607.8 354.9L610.25 354.9L610.25 362.2L612.7 362.2L612.7 369.3L615.15 369.3L615.15 381.1L617.6 381.1L617.6 383L620.05 383L620.05 394L622.5 394L622.5 405.6L624.95 405.6L624.95 418L627.4 418L627.4 428L629.85 428L629.85 436L632.3 436L632.3 443L634.75 443L634.75 446L637.2 446L637.2 447.4Z" fill="#ffa500" fill-opacity="0.6"/>
<path d="M609.5 447.4L609.5 427.1L612.36 427.1L612.36 403.3L615.22 403.3L615.22 381.9L618.08 381.9L618.08 374.4L620.94 374.4L620.94 360.8L623.8 360.8L623.8 362.2L626.66 362.2L626.66 364.9L629.52 364.9L629.52 369L632.38 369L632.38 383.4L635.24 383.4L635.24 387.5L638.1 387.5L638.1 390.2L640.96 390.2L640.96 400L643.82 400L643.82 405.6L646.68 405.6L646.68 411.3L649.54 411.3L649.54 418L652.4 418L652.4 426L655.26 426L655.26 432.8L658.12 432.8L658.12 437.3L660.98 437.3L660.98 442.9L663.84 442.9L663.84 444.5L666.7 444.5L666.7 447.4Z" fill="#0000ff" fill-opacity="0.6"/>
<path d="M562.2 279.5H674.8M674.8 279.5V447.4M674.8 447.4H562.2M562.2 447.4V279.5" fill="none" stroke="#000" stroke-width="0.8" stroke-linecap="square"/>
<text transform="translate(559.07 462.3) scale(1.0039 1)" x="0" font-size="10.5" fill="#303030">0</text>
<text transform="translate(589.97 462.3) scale(0.9919 1)" x="0 6.55 12.96" font-size="10.5" fill="#303030">200</text>
<text transform="translate(627.59 462.3) scale(1.0040 1)" x="0 6.34 12.67" font-size="10.5" fill="#303030">400</text>
<text transform="translate(664.85 462.3) scale(1.0156 1)" x="0 6.26 12.53" font-size="10.5" fill="#303030">600</text>
<path d="M562 447.4v3.5M599.4 447.4v3.5M636.8 447.4v3.5M674.2 447.4v3.5" stroke="#000" stroke-width="0.8"/>
<text transform="translate(525.97 451.8) scale(1.0093 1)" x="0 6.19 9.45 15.76 22.06" font-size="10.5" fill="#303030">0.000</text>
<text transform="translate(526.33 423.82) scale(1.0020 1)" x="0 6.22 9.52 15.87 22.09" font-size="10.5" fill="#303030">0.002</text>
<text transform="translate(525.87 395.83) scale(1.0093 1)" x="0 6.19 9.45 15.76 22.06" font-size="10.5" fill="#303030">0.004</text>
<text transform="translate(525.91 367.85) scale(1.0163 1)" x="0 6.15 9.39 15.65 21.91" font-size="10.5" fill="#303030">0.006</text>
<text transform="translate(525.98 339.87) scale(1.0114 1)" x="0 6.18 9.43 15.72 22.01" font-size="10.5" fill="#303030">0.008</text>
<text transform="translate(525.99 311.88) scale(1.0002 1)" x="0 6.23 9.54 15.85 22.26" font-size="10.5" fill="#303030">0.010</text>
<text transform="translate(526.35 283.9) scale(0.9930 1)" x="0 6.26 9.61 15.96 22.29" font-size="10.5" fill="#303030">0.012</text>
<path d="M562.2 447.4h-3.5M562.2 419.42h-3.5M562.2 391.43h-3.5M562.2 363.45h-3.5M562.2 335.47h-3.5M562.2 307.48h-3.5M562.2 279.5h-3.5" stroke="#000" stroke-width="0.8"/>
<text transform="translate(54.99 229.9) scale(0.9635 1)" font-size="10.5" font-style="italic" fill="#303030">N</text>
<text transform="translate(62.38 231.7) scale(0.9949 1)" font-size="8.2" fill="#303030">0</text>
<text transform="translate(69.92 229.9) scale(1.0352 1)" x="0 4.14 10.31 16.79 26.16 32.25 38.62 38.62 45.4 51.71 51.71 57.89 63.43 66.55 72.99 79.19 85.11 90.65" font-size="10.5" fill="#303030">(number of stages)</text>
<text transform="translate(225.89 229.9) scale(0.9635 1)" font-size="10.5" font-style="italic" fill="#303030">N</text>
<text transform="translate(236.62 229.9) scale(1.0352 1)" x="0 4.14 10.31 16.79 26.16 32.25 38.62 38.62 45.4 51.71 51.71 57.89 63.43 66.55 72.99 79.19 85.11 90.65" font-size="10.5" fill="#303030">(number of stages)</text>
<text transform="translate(417.5 228.9) scale(0.9893 1)" x="0 6.51 9.62 19.05 19.05 28.19 32.43 38.69 44.93 51.57 55.25 60.9" font-size="10.5" fill="#303030">Time (hours)</text>
<text transform="translate(586.75 228.9) scale(0.9893 1)" x="0 6.51 9.62 19.05 19.05 28.19 32.43 38.69 44.93 51.57 55.25 60.9" font-size="10.5" fill="#303030">Time (hours)</text>
<text transform="translate(54.99 477.9) scale(0.9635 1)" font-size="10.5" font-style="italic" fill="#303030">N</text>
<text transform="translate(62.38 479.7) scale(0.9949 1)" font-size="8.2" fill="#303030">0</text>
<text transform="translate(69.92 477.9) scale(1.0352 1)" x="0 4.14 10.31 16.79 26.16 32.25 38.62 38.62 45.4 51.71 51.71 57.89 63.43 66.55 72.99 79.19 85.11 90.65" font-size="10.5" fill="#303030">(number of stages)</text>
<text transform="translate(225.89 477.9) scale(0.9635 1)" font-size="10.5" font-style="italic" fill="#303030">N</text>
<text transform="translate(236.62 477.9) scale(1.0352 1)" x="0 4.14 10.31 16.79 26.16 32.25 38.62 38.62 45.4 51.71 51.71 57.89 63.43 66.55 72.99 79.19 85.11 90.65" font-size="10.5" fill="#303030">(number of stages)</text>
<text transform="translate(417.5 477.4) scale(0.9893 1)" x="0 6.51 9.62 19.05 19.05 28.19 32.43 38.69 44.93 51.57 55.25 60.9" font-size="10.5" fill="#303030">Time (hours)</text>
<text transform="translate(586.75 477.4) scale(0.9893 1)" x="0 6.51 9.62 19.05 19.05 28.19 32.43 38.69 44.93 51.57 55.25 60.9" font-size="10.5" fill="#303030">Time (hours)</text>
<text transform="translate(16 145.3) rotate(-90) scale(1.0421 1)" font-size="10.5" font-style="italic" fill="#303030">λ</text>
<text transform="translate(17.8 140.24) rotate(-90) scale(1.0460 1)" font-size="8.2" fill="#303030">0</text>
<text transform="translate(15.4 131.4) rotate(-90) scale(0.9938 1)" x="-0.91 3.3 9.72 13.15 19.43 25.68 32.33 36.03 41.69" font-size="10.5" fill="#303030">(1/hours)</text>
<text transform="translate(193.6 143.3) rotate(-90) scale(1.0421 1)" font-size="10.5" font-style="italic" fill="#303030">λ</text>
<text transform="translate(193.7 133.6) rotate(-90) scale(0.9938 1)" x="-0.91 3.3 9.72 13.15 19.43 25.68 32.33 36.03 41.69" font-size="10.5" fill="#303030">(1/hours)</text>
<text transform="translate(16 393.35) rotate(-90) scale(1.0421 1)" font-size="10.5" font-style="italic" fill="#303030">λ</text>
<text transform="translate(17.8 388.29) rotate(-90) scale(1.0460 1)" font-size="8.2" fill="#303030">0</text>
<text transform="translate(15.4 379.45) rotate(-90) scale(0.9938 1)" x="-0.91 3.3 9.72 13.15 19.43 25.68 32.33 36.03 41.69" font-size="10.5" fill="#303030">(1/hours)</text>
<text transform="translate(193.6 391.35) rotate(-90) scale(1.0421 1)" font-size="10.5" font-style="italic" fill="#303030">λ</text>
<text transform="translate(193.7 381.65) rotate(-90) scale(0.9938 1)" x="-0.91 3.3 9.72 13.15 19.43 25.68 32.33 36.03 41.69" font-size="10.5" fill="#303030">(1/hours)</text>
<text transform="translate(356.7 134.9) rotate(-90) scale(1.0364 1)" x="-1 6.59 12.65 18.59 23.85 26.77 30.4" font-size="10.5" fill="#303030">Density</text>
<text transform="translate(525.4 134.9) rotate(-90) scale(1.0364 1)" x="-1 6.59 12.65 18.59 23.85 26.77 30.4" font-size="10.5" fill="#303030">Density</text>
<text transform="translate(350.7 382.9) rotate(-90) scale(1.0364 1)" x="-1 6.59 12.65 18.59 23.85 26.77 30.4" font-size="10.5" fill="#303030">Density</text>
<text transform="translate(519.4 382.9) rotate(-90) scale(1.0364 1)" x="-1 6.59 12.65 18.59 23.85 26.77 30.4" font-size="10.5" fill="#303030">Density</text>
<rect x="450.7" y="36.4" width="49.6" height="58" rx="2.5" fill="#fff" fill-opacity="0.8" stroke="#d6d6d6" stroke-width="1"/>
<rect x="454" y="48.1" width="20" height="6.8" fill="#ffa500" fill-opacity="0.6"/>
<rect x="454" y="76.2" width="20" height="6.7" fill="#0000ff" fill-opacity="0.6"/>
<text transform="translate(482.68 48.6) scale(0.9911 1)" font-size="10.5" font-style="italic" fill="#303030">N</text>
<text transform="translate(489.98 49.9) scale(0.9949 1)" font-size="8.2" fill="#303030">0</text>
<path d="M483 51.7H496" stroke="#303030" stroke-width="0.8"/>
<text transform="translate(483.98 61) scale(1.2190 1)" font-size="10.5" font-style="italic" fill="#303030">λ</text>
<text transform="translate(489.58 62.7) scale(0.9949 1)" font-size="8.2" fill="#303030">0</text>
<text transform="translate(482.68 78.4) scale(0.9773 1)" font-size="10.5" font-style="italic" fill="#303030">N</text>
<path d="M483 79.7H491.7" stroke="#303030" stroke-width="0.8"/>
<text transform="translate(483.98 88.4) scale(1.2190 1)" font-size="10.5" font-style="italic" fill="#303030">λ</text>
<rect x="621.2" y="36.4" width="48.1" height="56.9" rx="2.5" fill="#fff" fill-opacity="0.8" stroke="#d6d6d6" stroke-width="1"/>
<rect x="624.3" y="46.1" width="20" height="6.9" fill="#ffa500" fill-opacity="0.6"/>
<rect x="624.3" y="74.4" width="20" height="7.4" fill="#0000ff" fill-opacity="0.6"/>
<text transform="translate(655.68 49.9) scale(0.9057 1)" font-size="10.5" fill="#303030">1</text>
<path d="M653 50.6H665.7" stroke="#303030" stroke-width="0.8"/>
<text transform="translate(653.8 60.1) scale(1.2584 1)" font-size="10.5" font-style="italic" fill="#303030">λ</text>
<text transform="translate(659.58 62.1) scale(0.9949 1)" font-size="8.2" fill="#303030">0</text>
<text transform="translate(654.11 77.2) scale(0.8615 1)" font-size="10.5" fill="#303030">1</text>
<path d="M653 78.1H661.4" stroke="#303030" stroke-width="0.8"/>
<text transform="translate(653.8 88) scale(1.2584 1)" font-size="10.5" font-style="italic" fill="#303030">λ</text>
<rect x="450.7" y="284.5" width="49.6" height="58" rx="2.5" fill="#fff" fill-opacity="0.8" stroke="#d6d6d6" stroke-width="1"/>
<rect x="454" y="296.2" width="20" height="6.8" fill="#ffa500" fill-opacity="0.6"/>
<rect x="454" y="324.3" width="20" height="6.7" fill="#0000ff" fill-opacity="0.6"/>
<text transform="translate(482.68 296.7) scale(0.9911 1)" font-size="10.5" font-style="italic" fill="#303030">N</text>
<text transform="translate(489.98 298) scale(0.9949 1)" font-size="8.2" fill="#303030">0</text>
<path d="M483 299.8H496" stroke="#303030" stroke-width="0.8"/>
<text transform="translate(483.98 309.1) scale(1.2190 1)" font-size="10.5" font-style="italic" fill="#303030">λ</text>
<text transform="translate(489.58 310.8) scale(0.9949 1)" font-size="8.2" fill="#303030">0</text>
<text transform="translate(482.68 326.5) scale(0.9773 1)" font-size="10.5" font-style="italic" fill="#303030">N</text>
<path d="M483 327.8H491.7" stroke="#303030" stroke-width="0.8"/>
<text transform="translate(483.98 336.5) scale(1.2190 1)" font-size="10.5" font-style="italic" fill="#303030">λ</text>
<rect x="621.2" y="284.5" width="48.1" height="56.9" rx="2.5" fill="#fff" fill-opacity="0.8" stroke="#d6d6d6" stroke-width="1"/>
<rect x="624.3" y="294.2" width="20" height="6.9" fill="#ffa500" fill-opacity="0.6"/>
<rect x="624.3" y="322.5" width="20" height="7.4" fill="#0000ff" fill-opacity="0.6"/>
<text transform="translate(655.68 298) scale(0.9057 1)" font-size="10.5" fill="#303030">1</text>
<path d="M653 298.7H665.7" stroke="#303030" stroke-width="0.8"/>
<text transform="translate(653.8 308.2) scale(1.2584 1)" font-size="10.5" font-style="italic" fill="#303030">λ</text>
<text transform="translate(659.58 310.2) scale(0.9949 1)" font-size="8.2" fill="#303030">0</text>
<text transform="translate(654.11 325.3) scale(0.8615 1)" font-size="10.5" fill="#303030">1</text>
<path d="M653 326.2H661.4" stroke="#303030" stroke-width="0.8"/>
<text transform="translate(653.8 336.1) scale(1.2584 1)" font-size="10.5" font-style="italic" fill="#303030">λ</text>
</svg></body></html>
